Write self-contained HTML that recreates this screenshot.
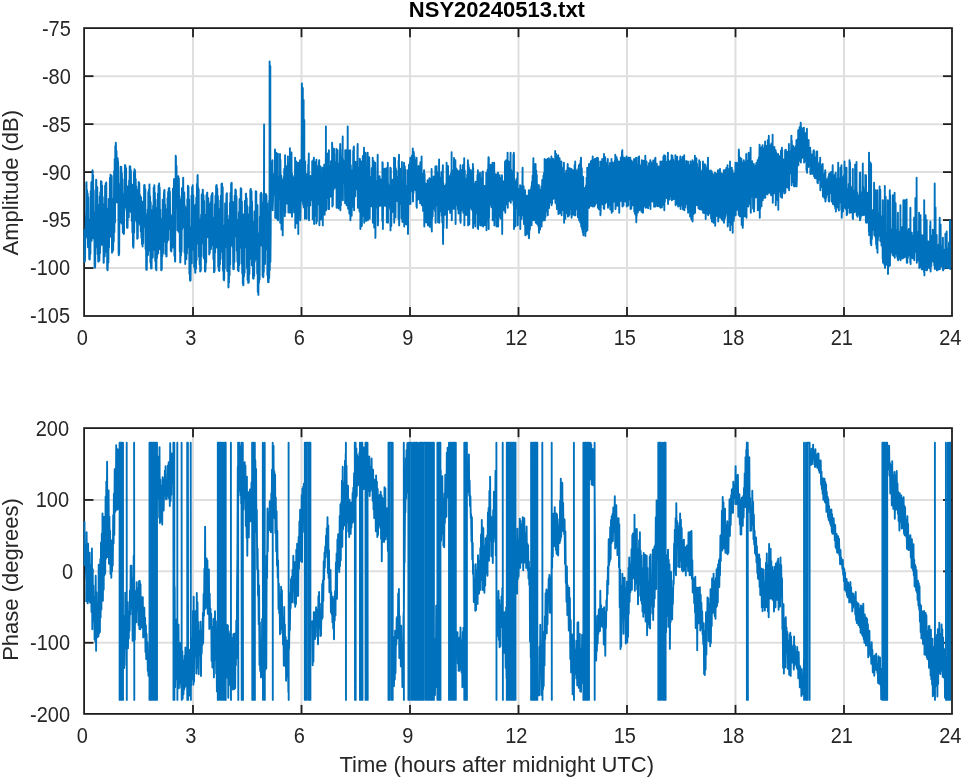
<!DOCTYPE html>
<html lang="en"><head><meta charset="utf-8"><title>NSY20240513.txt</title>
<style>html,body{margin:0;padding:0;background:#fff;overflow:hidden}svg{display:block}text{font-family:"Liberation Sans", sans-serif;fill:#262626}.t{font-size:20px}.l{font-size:22px}.h{font-size:22px;font-weight:bold;fill:#000}.d{fill:none;stroke:#0072bd;stroke-width:1.9;stroke-linejoin:round;stroke-linecap:round}</style></head><body>
<svg width="964" height="778" viewBox="0 0 964 778">
<rect width="964" height="778" fill="#fff"/>
<clipPath id="cp"><rect x="83" y="0" width="867.9" height="778"/></clipPath>
<line x1="193.00" y1="28.2" x2="193.00" y2="316.0" stroke="#dfdfdf" stroke-width="2"/>
<line x1="301.50" y1="28.2" x2="301.50" y2="316.0" stroke="#dfdfdf" stroke-width="2"/>
<line x1="410.00" y1="28.2" x2="410.00" y2="316.0" stroke="#dfdfdf" stroke-width="2"/>
<line x1="518.50" y1="28.2" x2="518.50" y2="316.0" stroke="#dfdfdf" stroke-width="2"/>
<line x1="627.00" y1="28.2" x2="627.00" y2="316.0" stroke="#dfdfdf" stroke-width="2"/>
<line x1="735.50" y1="28.2" x2="735.50" y2="316.0" stroke="#dfdfdf" stroke-width="2"/>
<line x1="844.00" y1="28.2" x2="844.00" y2="316.0" stroke="#dfdfdf" stroke-width="2"/>
<line x1="84.5" y1="76.17" x2="952.0" y2="76.17" stroke="#dfdfdf" stroke-width="2"/>
<line x1="84.5" y1="124.13" x2="952.0" y2="124.13" stroke="#dfdfdf" stroke-width="2"/>
<line x1="84.5" y1="172.10" x2="952.0" y2="172.10" stroke="#dfdfdf" stroke-width="2"/>
<line x1="84.5" y1="220.07" x2="952.0" y2="220.07" stroke="#dfdfdf" stroke-width="2"/>
<line x1="84.5" y1="268.03" x2="952.0" y2="268.03" stroke="#dfdfdf" stroke-width="2"/>
<line x1="193.00" y1="316.0" x2="193.00" y2="307.0" stroke="#1e1e1e" stroke-width="1.8"/>
<line x1="193.00" y1="28.2" x2="193.00" y2="37.2" stroke="#1e1e1e" stroke-width="1.8"/>
<line x1="301.50" y1="316.0" x2="301.50" y2="307.0" stroke="#1e1e1e" stroke-width="1.8"/>
<line x1="301.50" y1="28.2" x2="301.50" y2="37.2" stroke="#1e1e1e" stroke-width="1.8"/>
<line x1="410.00" y1="316.0" x2="410.00" y2="307.0" stroke="#1e1e1e" stroke-width="1.8"/>
<line x1="410.00" y1="28.2" x2="410.00" y2="37.2" stroke="#1e1e1e" stroke-width="1.8"/>
<line x1="518.50" y1="316.0" x2="518.50" y2="307.0" stroke="#1e1e1e" stroke-width="1.8"/>
<line x1="518.50" y1="28.2" x2="518.50" y2="37.2" stroke="#1e1e1e" stroke-width="1.8"/>
<line x1="627.00" y1="316.0" x2="627.00" y2="307.0" stroke="#1e1e1e" stroke-width="1.8"/>
<line x1="627.00" y1="28.2" x2="627.00" y2="37.2" stroke="#1e1e1e" stroke-width="1.8"/>
<line x1="735.50" y1="316.0" x2="735.50" y2="307.0" stroke="#1e1e1e" stroke-width="1.8"/>
<line x1="735.50" y1="28.2" x2="735.50" y2="37.2" stroke="#1e1e1e" stroke-width="1.8"/>
<line x1="844.00" y1="316.0" x2="844.00" y2="307.0" stroke="#1e1e1e" stroke-width="1.8"/>
<line x1="844.00" y1="28.2" x2="844.00" y2="37.2" stroke="#1e1e1e" stroke-width="1.8"/>
<line x1="84.5" y1="76.17" x2="93.5" y2="76.17" stroke="#1e1e1e" stroke-width="1.8"/>
<line x1="952.0" y1="76.17" x2="943.0" y2="76.17" stroke="#1e1e1e" stroke-width="1.8"/>
<line x1="84.5" y1="124.13" x2="93.5" y2="124.13" stroke="#1e1e1e" stroke-width="1.8"/>
<line x1="952.0" y1="124.13" x2="943.0" y2="124.13" stroke="#1e1e1e" stroke-width="1.8"/>
<line x1="84.5" y1="172.10" x2="93.5" y2="172.10" stroke="#1e1e1e" stroke-width="1.8"/>
<line x1="952.0" y1="172.10" x2="943.0" y2="172.10" stroke="#1e1e1e" stroke-width="1.8"/>
<line x1="84.5" y1="220.07" x2="93.5" y2="220.07" stroke="#1e1e1e" stroke-width="1.8"/>
<line x1="952.0" y1="220.07" x2="943.0" y2="220.07" stroke="#1e1e1e" stroke-width="1.8"/>
<line x1="84.5" y1="268.03" x2="93.5" y2="268.03" stroke="#1e1e1e" stroke-width="1.8"/>
<line x1="952.0" y1="268.03" x2="943.0" y2="268.03" stroke="#1e1e1e" stroke-width="1.8"/>
<rect x="84.10" y="28.10" width="867.90" height="287.90" fill="none" stroke="#1e1e1e" stroke-width="1.8"/>
<text transform="translate(82.30,344.9) scale(1,1.06)" text-anchor="middle" class="t">0</text>
<text transform="translate(190.80,344.9) scale(1,1.06)" text-anchor="middle" class="t">3</text>
<text transform="translate(299.30,344.9) scale(1,1.06)" text-anchor="middle" class="t">6</text>
<text transform="translate(407.80,344.9) scale(1,1.06)" text-anchor="middle" class="t">9</text>
<text transform="translate(516.30,344.9) scale(1,1.06)" text-anchor="middle" class="t">12</text>
<text transform="translate(624.80,344.9) scale(1,1.06)" text-anchor="middle" class="t">15</text>
<text transform="translate(733.30,344.9) scale(1,1.06)" text-anchor="middle" class="t">18</text>
<text transform="translate(841.80,344.9) scale(1,1.06)" text-anchor="middle" class="t">21</text>
<text transform="translate(950.30,344.9) scale(1,1.06)" text-anchor="middle" class="t">24</text>
<text transform="translate(70.8,35.60) scale(1,1.06)" text-anchor="end" class="t">-75</text>
<text transform="translate(70.8,83.57) scale(1,1.06)" text-anchor="end" class="t">-80</text>
<text transform="translate(70.8,131.53) scale(1,1.06)" text-anchor="end" class="t">-85</text>
<text transform="translate(70.8,179.50) scale(1,1.06)" text-anchor="end" class="t">-90</text>
<text transform="translate(70.8,227.47) scale(1,1.06)" text-anchor="end" class="t">-95</text>
<text transform="translate(70.1,275.43) scale(1,1.06)" text-anchor="end" class="t">-100</text>
<text transform="translate(70.1,323.40) scale(1,1.06)" text-anchor="end" class="t">-105</text>
<polyline class="d" clip-path="url(#cp)" points="84.5,230.0 84.6,262.0 85.0,260.3 85.3,240.0 86.2,210.4 86.3,182.6 86.5,182.2 86.8,236.2 87.1,190.2 87.4,237.8 87.7,193.4 88.0,247.2 88.3,197.2 88.6,244.6 88.9,225.9 89.2,259.1 89.5,222.0 89.5,259.0 89.8,259.5 90.1,224.3 90.4,254.0 90.7,191.1 91.0,234.5 91.3,182.3 91.6,240.9 91.9,185.1 92.2,203.0 92.5,170.2 92.5,170.1 92.8,238.2 93.1,174.9 93.4,227.8 93.7,190.3 94.0,237.5 94.3,214.6 94.6,267.1 94.9,221.5 95.0,267.8 95.2,265.1 95.5,212.3 95.8,234.7 96.1,179.7 96.3,180.1 96.4,215.8 96.7,191.5 97.0,247.5 97.3,187.3 97.6,254.0 97.9,213.4 98.2,261.5 98.5,205.2 98.8,261.6 98.8,261.6 99.1,222.0 99.4,260.3 99.7,196.4 100.0,253.2 100.3,192.3 100.6,245.5 100.9,181.3 101.2,215.1 101.3,181.4 101.5,181.5 101.8,243.3 102.1,185.5 102.4,244.8 102.7,197.0 103.0,243.3 103.3,221.9 103.6,262.8 103.8,262.8 103.9,225.0 104.2,255.1 104.5,203.9 104.8,256.2 105.1,185.6 105.4,229.2 105.7,183.4 105.8,183.4 106.0,230.0 106.3,182.5 106.6,252.0 106.9,209.7 107.2,269.6 107.5,243.0 107.6,270.3 107.8,263.5 108.1,208.4 108.4,262.6 108.7,198.9 109.0,247.6 109.3,200.1 109.6,237.2 109.9,177.9 110.2,232.1 110.5,174.7 110.6,174.6 110.8,232.8 111.1,182.7 111.4,236.7 111.7,176.0 112.0,252.8 112.3,204.6 112.6,251.5 112.6,251.6 112.9,199.1 113.2,250.0 113.5,203.8 113.8,241.5 114.1,171.3 114.4,232.3 114.7,159.0 115.0,222.4 115.3,146.1 115.6,202.3 115.8,142.6 115.9,143.2 116.2,177.3 116.5,151.0 116.8,202.2 117.1,160.4 117.4,202.3 117.7,158.2 118.0,199.5 118.1,161.4 118.3,171.0 118.6,252.5 118.8,255.3 118.9,205.2 119.2,253.7 119.5,193.8 119.8,222.5 120.1,184.0 120.4,208.2 120.7,166.8 120.8,167.1 121.0,218.3 121.3,166.9 121.6,223.5 121.9,173.1 122.2,215.9 122.5,179.2 122.8,232.6 123.1,201.9 123.4,226.1 123.7,213.1 123.8,234.0 124.0,233.7 124.3,193.9 124.6,210.1 124.9,165.3 125.2,196.8 125.3,165.1 125.5,168.4 125.8,195.9 126.1,168.2 126.4,207.5 126.7,186.6 127.0,227.8 127.3,193.9 127.6,227.7 127.6,227.8 127.9,193.9 128.2,216.7 128.5,185.6 128.8,217.4 129.1,180.4 129.4,199.6 129.7,166.3 130.0,201.1 130.1,166.4 130.3,166.5 130.6,211.8 130.9,170.1 131.2,206.2 131.5,192.8 131.8,221.0 132.1,184.7 132.4,232.6 132.7,192.9 133.0,246.5 133.3,208.1 133.4,247.8 133.6,241.5 133.9,172.3 134.2,232.4 134.5,169.3 134.6,169.4 134.8,199.3 135.1,170.9 135.4,213.2 135.7,178.9 136.0,219.9 136.3,186.4 136.6,221.9 136.9,202.3 137.2,238.7 137.5,198.9 137.6,237.8 137.8,238.1 138.1,189.8 138.4,223.7 138.7,181.9 139.0,218.6 139.1,183.1 139.3,183.2 139.6,210.8 139.9,194.7 140.2,225.3 140.5,201.7 140.8,231.5 141.1,197.2 141.4,237.8 141.7,213.7 142.0,244.3 142.3,201.6 142.6,246.5 142.6,246.5 142.9,211.0 143.2,243.2 143.5,201.9 143.8,227.1 144.1,185.3 144.4,222.2 144.6,185.2 144.7,185.1 145.0,221.4 145.3,189.3 145.6,249.0 145.9,214.1 146.2,268.7 146.4,269.8 146.5,214.9 146.8,269.7 147.1,232.0 147.4,253.8 147.7,209.5 148.0,255.1 148.3,192.0 148.6,234.5 148.9,189.5 149.2,233.8 149.4,184.4 149.5,184.4 149.8,250.7 150.1,196.2 150.4,262.4 150.7,202.3 151.0,268.4 151.3,210.0 151.4,268.3 151.6,268.4 151.9,211.6 152.2,253.1 152.5,218.7 152.8,257.5 153.1,205.6 153.4,250.1 153.7,187.6 154.0,244.0 154.3,185.1 154.4,185.2 154.6,225.4 154.9,192.7 155.2,260.9 155.5,199.8 155.8,268.8 156.1,207.7 156.4,270.3 156.4,270.3 156.7,221.6 157.0,258.1 157.3,225.9 157.6,243.8 157.9,193.7 158.2,253.5 158.5,185.7 158.8,226.6 159.1,183.4 159.2,183.4 159.4,240.5 159.7,187.8 160.0,249.2 160.3,209.6 160.6,248.6 160.9,224.6 161.2,270.3 161.4,270.3 161.5,227.1 161.8,269.3 162.1,219.0 162.4,255.9 162.7,199.6 163.0,253.3 163.3,209.4 163.6,241.8 163.9,195.0 164.2,190.2 164.2,213.7 164.5,190.0 164.8,223.4 165.1,204.6 165.4,253.9 165.7,212.0 166.0,249.3 166.3,231.4 166.4,256.5 166.6,256.4 166.9,209.3 167.2,242.3 167.5,198.2 167.8,238.0 168.1,192.0 168.4,239.9 168.7,188.5 168.9,188.4 169.0,214.0 169.3,187.9 169.6,220.4 169.9,191.7 170.2,229.2 170.5,217.2 170.8,250.8 171.1,219.9 171.4,251.6 171.4,251.5 171.7,216.0 172.0,247.4 172.3,214.5 172.6,247.5 172.9,188.7 173.2,242.2 173.5,189.1 173.8,211.3 173.9,181.4 174.1,179.0 174.4,255.7 174.7,195.3 175.0,261.0 175.2,261.6 175.3,191.7 175.6,208.6 175.7,155.6 175.9,157.1 176.2,199.5 176.5,166.0 176.8,193.3 177.1,178.8 177.4,230.2 177.7,180.3 178.0,219.8 178.3,176.2 178.6,231.8 178.9,178.5 178.9,178.9 179.2,223.3 179.5,196.2 179.8,251.7 180.1,206.6 180.2,262.3 180.4,262.4 180.7,219.6 181.0,255.4 181.3,199.5 181.6,251.4 181.9,188.3 182.2,228.9 182.5,193.5 182.8,217.1 183.1,179.8 183.2,177.6 183.4,225.5 183.7,192.9 184.0,227.4 184.3,192.4 184.6,252.8 184.9,205.7 185.2,264.1 185.2,264.1 185.5,207.8 185.8,256.6 186.1,209.2 186.4,259.3 186.7,213.0 187.0,253.5 187.3,199.1 187.6,247.5 187.9,185.8 188.2,239.2 188.2,186.4 188.5,187.0 188.8,233.7 189.1,199.5 189.4,273.7 189.7,227.1 190.0,280.1 190.2,280.8 190.3,247.7 190.6,280.2 190.9,235.7 191.2,263.2 191.5,195.6 191.8,263.3 192.1,187.1 192.4,249.7 192.7,185.2 192.7,185.2 193.0,241.8 193.3,195.1 193.6,246.8 193.9,210.2 194.2,267.1 194.5,205.7 194.8,269.1 195.1,242.3 195.2,272.8 195.4,272.8 195.7,204.5 196.0,268.8 196.3,197.5 196.6,260.1 196.9,184.0 197.2,231.2 197.5,175.6 197.7,175.1 197.8,213.1 198.1,187.2 198.4,243.8 198.7,189.1 199.0,256.7 199.3,219.1 199.6,264.6 199.9,233.1 200.2,271.6 200.2,271.6 200.5,232.6 200.8,270.8 201.1,214.7 201.4,256.2 201.7,194.4 202.0,236.6 202.3,201.7 202.6,232.5 202.7,189.7 202.9,189.8 203.2,243.4 203.5,195.2 203.8,258.2 204.1,200.9 204.4,257.4 204.7,221.2 205.0,271.6 205.3,271.6 205.3,241.3 205.6,270.1 205.9,214.8 206.2,262.5 206.5,195.0 206.8,232.8 207.1,192.6 207.3,192.7 207.4,215.3 207.7,200.3 208.0,237.2 208.3,198.3 208.6,236.9 208.9,204.0 209.2,254.6 209.5,224.8 209.8,252.8 209.8,253.0 210.1,209.9 210.4,249.3 210.7,201.9 211.0,249.0 211.3,195.9 211.6,242.7 211.9,193.9 212.0,193.9 212.2,245.0 212.5,193.0 212.8,240.3 213.1,217.7 213.4,259.0 213.7,223.2 214.0,272.2 214.0,272.3 214.3,241.4 214.6,271.1 214.9,204.1 215.2,252.6 215.5,195.8 215.8,231.8 216.1,186.0 216.4,212.8 216.5,185.2 216.7,185.1 217.0,247.5 217.3,188.5 217.6,243.1 217.9,196.0 218.2,266.4 218.5,229.8 218.8,270.4 219.0,270.3 219.1,216.6 219.4,271.1 219.7,209.0 220.0,264.3 220.3,200.4 220.6,259.1 220.9,195.4 221.2,251.8 221.5,184.0 221.8,219.2 222.0,183.4 222.1,183.6 222.4,225.8 222.7,187.3 223.0,270.8 223.3,225.5 223.6,279.5 223.9,235.6 224.0,280.3 224.2,278.1 224.5,233.7 224.8,268.6 225.1,203.5 225.4,245.5 225.7,209.5 226.0,247.1 226.3,201.6 226.5,193.9 226.6,242.9 226.9,193.1 227.2,271.0 227.5,219.6 227.8,270.6 228.1,225.7 228.4,287.1 228.5,287.4 228.7,234.2 229.0,282.6 229.3,215.6 229.6,275.3 229.9,202.9 230.2,264.5 230.5,192.9 230.8,245.5 231.1,183.7 231.4,240.4 231.6,182.6 231.7,182.9 232.0,236.7 232.3,201.4 232.6,246.7 232.9,204.7 233.2,267.0 233.3,269.1 233.5,217.6 233.8,269.2 234.1,202.1 234.4,262.1 234.7,195.6 235.0,233.8 235.3,189.4 235.6,234.6 235.8,190.2 235.9,190.1 236.2,236.4 236.5,196.5 236.8,250.8 237.1,221.2 237.4,261.6 237.7,220.1 238.0,270.2 238.3,235.1 238.3,270.3 238.6,271.2 238.9,212.3 239.2,264.9 239.5,199.2 239.8,248.0 240.1,200.3 240.4,221.9 240.7,188.2 240.8,188.2 241.0,238.9 241.3,188.7 241.6,263.4 241.9,201.8 242.2,273.3 242.5,220.0 242.8,283.4 243.1,238.3 243.3,285.4 243.4,285.3 243.7,214.4 244.0,276.6 244.3,229.0 244.6,272.7 244.9,200.7 245.2,247.6 245.5,204.9 245.8,233.1 245.8,193.9 246.1,193.6 246.4,247.0 246.7,198.1 247.0,268.3 247.3,206.0 247.6,280.0 247.9,220.1 248.2,282.9 248.3,282.8 248.5,226.5 248.8,282.4 249.1,214.2 249.4,274.1 249.7,207.1 250.0,259.0 250.3,190.0 250.6,254.3 250.8,188.9 250.9,188.9 251.2,253.2 251.5,191.4 251.8,265.2 252.1,201.4 252.4,264.4 252.7,228.6 253.0,278.2 253.3,222.3 253.3,277.8 253.6,278.7 253.9,236.7 254.2,276.0 254.5,211.4 254.8,261.8 255.1,214.4 255.4,251.2 255.7,191.2 256.0,235.6 256.1,191.4 256.3,191.5 256.6,259.3 256.9,219.3 257.2,273.7 257.5,205.3 257.8,292.1 258.1,242.4 258.4,294.9 258.4,294.7 258.7,233.6 259.0,282.8 259.3,234.3 259.6,279.4 259.9,216.5 260.2,245.0 260.5,194.1 260.8,245.5 261.1,192.7 261.1,192.7 261.4,243.4 261.7,194.0 262.0,245.8 262.3,203.5 262.6,275.9 262.9,214.2 263.2,277.2 263.4,276.6 263.5,230.7 263.8,200.9 263.8,272.0 264.1,124.4 264.1,218.4 264.4,200.9 264.4,256.4 264.7,202.1 265.0,264.1 265.3,198.4 265.6,230.8 265.9,193.9 265.9,193.9 266.2,249.5 266.5,195.6 266.8,241.3 267.1,203.4 267.4,275.0 267.7,230.6 268.0,281.9 268.3,229.7 268.4,282.3 268.6,282.3 268.9,251.8 269.1,200.9 269.2,278.1 269.5,252.6 269.6,61.5 269.8,200.9 269.8,270.1 270.1,200.9 270.1,242.8 270.3,66.0 270.4,262.1 270.7,232.7 270.8,200.9 271.0,176.4 271.3,193.3 271.6,176.9 271.9,193.3 272.2,174.2 272.3,160.9 272.5,193.3 272.5,160.2 272.7,210.3 272.8,174.3 272.8,206.7 273.1,196.1 273.4,175.6 273.7,193.9 274.0,174.5 274.3,194.5 274.6,173.5 274.9,194.5 275.0,149.4 275.2,172.9 275.2,217.8 275.5,196.1 275.8,162.3 276.1,202.5 276.2,152.6 276.4,156.1 276.7,197.6 276.7,218.5 277.0,175.2 277.3,204.9 277.6,176.0 277.9,153.8 277.9,200.1 278.1,220.2 278.2,176.5 278.5,198.2 278.8,176.5 279.1,198.7 279.4,177.1 279.7,199.1 280.0,170.2 280.0,154.0 280.2,222.8 280.3,204.3 280.4,159.8 280.6,182.2 280.9,206.3 280.9,220.2 281.2,175.4 281.5,229.5 281.8,192.6 282.1,218.6 282.4,190.2 282.5,180.3 282.7,215.2 282.7,235.4 283.0,194.5 283.3,210.3 283.6,177.3 283.9,204.1 284.2,171.8 284.3,168.7 284.5,198.4 284.8,177.2 284.8,216.2 285.1,155.2 285.1,194.9 285.3,212.8 285.4,174.5 285.7,193.0 286.0,173.9 286.3,192.8 286.6,166.1 286.9,203.6 287.2,172.7 287.5,192.0 287.8,172.1 287.9,156.4 288.1,191.7 288.4,171.5 288.4,212.5 288.7,192.8 289.0,167.3 289.3,193.3 289.6,162.4 289.9,192.6 289.9,148.1 290.1,212.7 290.2,170.6 290.5,193.6 290.8,153.5 291.1,195.3 291.4,172.4 291.5,152.5 291.7,195.4 292.0,173.6 292.0,216.7 292.3,197.6 292.6,175.6 292.9,198.4 293.2,177.3 293.5,200.1 293.8,178.7 294.1,212.4 294.4,179.9 294.7,205.1 295.0,178.3 295.1,157.7 295.3,227.9 295.3,208.5 295.6,179.2 295.9,210.0 296.2,169.2 296.3,161.4 296.5,216.2 296.8,175.5 296.8,223.3 297.1,207.9 297.4,185.8 297.7,216.1 298.0,186.6 298.1,162.7 298.3,234.1 298.3,208.8 298.6,164.1 298.9,205.8 299.2,182.9 299.5,202.9 299.8,171.7 299.9,161.4 300.1,160.2 300.1,199.9 300.3,220.3 300.4,180.1 300.4,219.8 300.7,199.7 301.0,174.8 301.3,199.6 301.4,200.9 301.6,179.9 301.9,83.5 301.9,199.5 302.2,200.9 302.2,176.3 302.4,200.9 302.5,199.3 302.8,88.0 302.8,179.3 303.0,200.9 303.1,204.5 303.4,200.9 303.4,173.1 303.6,100.0 303.7,207.4 303.8,200.9 304.0,178.6 304.2,200.9 304.3,120.0 304.3,198.8 304.4,159.7 304.6,178.3 304.8,200.9 304.9,203.7 304.9,218.8 305.2,161.4 305.5,199.3 305.8,177.7 306.1,200.0 306.4,177.3 306.7,218.8 307.0,174.1 307.3,205.6 307.6,174.2 307.9,198.4 308.2,164.8 308.5,197.7 308.6,159.3 308.8,175.8 308.8,153.5 309.0,220.3 309.1,197.8 309.1,218.4 309.4,176.6 309.7,199.1 310.0,177.1 310.3,205.4 310.6,175.9 310.9,199.2 311.2,178.1 311.5,199.7 311.8,178.6 312.1,200.2 312.2,161.2 312.4,165.9 312.7,200.6 312.7,219.4 313.0,179.6 313.3,201.1 313.6,160.1 313.9,157.7 313.9,201.8 314.1,224.1 314.2,167.4 314.5,216.1 314.8,161.9 315.1,208.5 315.4,166.7 315.7,215.9 316.0,175.1 316.3,223.6 316.4,159.7 316.6,176.1 316.9,205.1 316.9,221.2 317.2,177.6 317.5,202.6 317.8,166.1 318.1,204.3 318.4,181.8 318.7,203.2 319.0,162.6 319.2,160.1 319.3,203.6 319.4,225.2 319.6,182.8 319.9,203.6 320.2,181.4 320.5,204.2 320.6,166.5 320.8,181.5 321.1,204.6 321.1,219.6 321.4,185.5 321.7,205.6 322.0,186.4 322.3,205.5 322.6,187.3 322.6,167.7 322.8,225.4 322.9,205.7 323.2,184.0 323.5,201.5 323.8,181.3 324.1,206.8 324.2,164.8 324.4,178.2 324.7,195.7 324.7,214.8 325.0,167.7 325.3,195.3 325.6,200.9 325.6,172.1 325.9,150.2 325.9,126.5 325.9,200.1 326.1,210.3 326.2,200.9 326.2,169.7 326.5,198.3 326.8,160.2 327.1,189.7 327.4,168.5 327.7,192.3 327.8,153.4 328.0,164.5 328.3,204.0 328.3,209.1 328.6,170.3 328.9,150.2 328.9,189.0 329.1,209.1 329.2,166.2 329.5,192.5 329.8,168.2 330.1,187.8 330.4,167.4 330.7,196.6 331.0,161.1 331.3,186.8 331.6,165.4 331.9,193.4 332.1,142.7 332.2,162.1 332.3,145.7 332.3,206.6 332.5,185.1 332.8,165.1 332.8,205.4 333.1,185.5 333.4,155.4 333.7,189.6 334.0,148.8 334.3,186.9 334.6,166.3 334.9,187.3 335.2,167.2 335.5,187.7 335.8,162.2 336.1,187.6 336.2,154.1 336.4,168.9 336.4,148.9 336.6,207.8 336.7,188.1 336.7,205.3 337.0,167.7 337.3,188.4 337.6,150.1 337.9,187.8 338.2,166.4 338.5,208.5 338.8,164.0 339.1,188.5 339.4,166.9 339.7,187.9 340.0,151.5 340.2,143.9 340.3,201.4 340.4,149.4 340.4,210.3 340.6,156.8 340.9,185.1 340.9,205.3 341.2,162.8 341.5,188.5 341.8,161.0 342.1,184.5 342.4,158.8 342.7,136.4 342.7,178.7 342.9,200.3 343.0,158.9 343.3,179.9 343.6,160.8 343.9,181.3 344.2,162.6 344.5,182.5 344.8,164.3 345.1,203.3 345.2,150.3 345.4,166.0 345.7,185.4 345.7,200.1 346.0,164.6 346.3,188.4 346.4,150.2 346.6,169.1 346.6,205.3 346.9,192.1 347.2,169.7 347.4,200.9 347.5,192.1 347.7,126.5 347.8,170.5 348.0,200.9 348.1,208.7 348.4,168.7 348.7,192.6 348.8,150.8 349.0,172.4 349.3,194.2 349.3,213.6 349.6,173.0 349.9,213.2 350.2,150.2 350.2,173.9 350.4,220.3 350.5,199.2 350.8,165.1 351.1,194.6 351.4,170.9 351.7,215.7 352.0,170.6 352.3,192.6 352.6,170.2 352.9,206.8 353.2,150.9 353.5,191.5 353.6,147.5 353.8,168.4 353.9,146.4 354.1,188.5 354.1,207.9 354.1,210.3 354.4,167.8 354.7,188.4 355.0,162.0 355.3,196.3 355.6,161.9 355.9,189.4 356.2,166.7 356.5,187.0 356.8,164.3 357.1,186.5 357.4,157.4 357.5,147.4 357.7,143.9 357.7,186.1 357.9,207.8 358.0,167.8 358.0,202.2 358.3,203.0 358.6,172.1 358.9,196.0 359.2,176.3 359.5,211.5 359.8,158.7 360.1,204.9 360.2,160.2 360.4,182.8 360.4,229.1 360.7,216.8 361.0,181.4 361.1,161.4 361.3,203.5 361.6,179.8 361.6,226.3 361.9,224.7 362.2,176.1 362.5,216.1 362.8,155.9 363.1,199.2 363.4,174.2 363.7,198.1 364.0,147.7 364.0,168.4 364.2,222.8 364.3,206.3 364.6,173.7 364.9,197.3 365.2,171.0 365.5,198.1 365.6,152.7 365.8,173.3 366.1,216.2 366.1,220.9 366.4,174.3 366.7,198.5 367.0,175.2 367.3,197.5 367.6,175.6 367.7,152.7 367.9,200.1 367.9,220.3 368.2,176.1 368.5,197.9 368.8,176.5 369.1,198.3 369.2,157.2 369.4,166.6 369.7,201.2 369.7,218.8 370.0,177.1 370.3,199.1 370.6,178.1 370.9,201.9 371.2,177.0 371.5,206.3 371.8,167.9 372.1,200.3 372.4,179.3 372.7,200.7 372.7,157.7 372.9,222.8 373.0,180.8 373.3,203.4 373.6,180.0 373.7,161.2 373.9,206.9 374.2,182.3 374.2,227.5 374.5,208.9 374.8,186.8 375.1,212.6 375.2,162.7 375.4,175.5 375.4,237.9 375.7,210.4 376.0,185.3 376.3,207.6 376.6,183.0 376.9,206.3 377.2,180.8 377.5,202.4 377.6,157.1 377.7,154.7 377.8,177.7 377.9,225.4 378.1,202.2 378.1,221.7 378.4,179.6 378.7,202.4 379.0,180.4 379.3,203.0 379.6,176.3 379.9,205.9 380.2,182.0 380.5,204.2 380.8,179.4 381.1,204.8 381.4,183.5 381.7,205.5 382.0,184.3 382.3,221.1 382.4,162.2 382.6,183.6 382.7,162.7 382.9,206.4 382.9,227.8 382.9,229.1 383.2,182.9 383.5,205.9 383.8,184.4 384.1,205.4 384.4,168.7 384.7,205.0 385.0,178.5 385.3,205.9 385.6,176.4 385.9,205.0 386.2,182.6 386.3,168.1 386.5,203.9 386.8,182.9 386.8,222.3 387.1,203.4 387.4,183.2 387.7,213.2 387.8,162.7 388.0,222.8 388.0,182.4 388.3,204.4 388.6,185.1 388.9,205.8 389.2,186.5 389.5,207.0 389.8,187.8 390.1,209.2 390.3,167.7 390.4,188.7 390.5,230.4 390.7,208.2 390.8,168.3 391.0,187.2 391.3,206.8 391.3,226.1 391.6,184.1 391.9,206.0 392.2,183.7 392.5,212.0 392.8,179.7 393.1,205.0 393.4,181.4 393.7,201.4 394.0,177.7 394.0,157.7 394.2,222.8 394.3,200.7 394.6,166.7 394.9,208.8 395.0,158.1 395.2,171.2 395.5,200.9 395.5,217.5 395.8,168.2 396.1,201.0 396.4,170.7 396.7,201.1 397.0,179.0 397.3,201.1 397.6,177.9 397.9,201.2 398.2,176.8 398.5,219.0 398.6,160.6 398.8,164.3 399.0,154.7 399.1,203.1 399.1,220.9 399.2,225.4 399.4,179.1 399.7,202.6 400.0,168.7 400.3,202.5 400.6,175.3 400.9,203.7 401.2,181.1 401.5,218.2 401.8,181.6 401.9,161.9 402.1,203.5 402.4,179.8 402.4,222.0 402.7,203.9 403.0,183.3 403.3,204.4 403.6,183.9 403.9,205.2 404.0,162.7 404.2,184.7 404.2,226.6 404.5,205.8 404.8,166.3 405.1,219.3 405.4,187.2 405.5,169.6 405.7,214.3 406.0,188.4 406.0,224.2 406.3,210.1 406.6,189.5 406.9,210.6 407.2,186.0 407.5,224.7 407.8,170.2 407.8,191.9 408.0,234.1 408.1,218.8 408.4,187.2 408.7,204.3 409.0,164.7 409.3,200.1 409.6,177.7 409.9,194.7 410.0,161.7 410.2,170.3 410.3,157.7 410.5,192.2 410.5,204.0 410.5,200.3 410.8,165.6 411.1,188.9 411.4,168.7 411.7,191.3 412.0,155.4 412.3,185.2 412.6,160.4 412.8,148.4 412.9,187.6 413.0,201.6 413.2,165.2 413.5,193.0 413.8,151.9 414.1,187.0 414.4,156.3 414.7,189.7 415.0,159.9 415.3,189.6 415.6,164.5 415.9,190.6 416.2,171.9 416.5,206.5 416.6,157.7 416.8,207.8 416.8,168.1 417.1,200.3 417.4,171.2 417.7,193.7 418.0,170.6 418.3,199.4 418.6,166.0 418.9,191.1 419.2,170.8 419.5,194.0 419.8,168.8 420.1,203.3 420.4,162.3 420.7,190.2 421.0,170.9 421.3,189.9 421.6,156.5 421.6,172.3 421.8,205.3 421.9,192.2 422.2,175.9 422.5,205.2 422.8,173.9 423.1,210.9 423.4,183.1 423.7,205.9 424.0,171.0 424.1,170.2 424.3,226.6 424.3,219.8 424.6,173.9 424.9,209.1 425.2,188.5 425.5,214.8 425.8,183.6 426.1,222.6 426.4,188.9 426.7,211.7 427.0,193.3 427.3,219.2 427.6,180.3 427.8,180.3 427.9,222.3 428.0,225.4 428.2,188.8 428.5,212.1 428.8,192.8 429.1,219.8 429.4,178.1 429.7,226.8 430.0,191.2 430.3,216.1 430.6,187.0 430.9,213.7 431.2,178.7 431.5,228.4 431.6,169.0 431.8,231.6 431.8,179.9 432.1,218.8 432.4,180.3 432.7,216.3 433.0,183.3 433.3,209.1 433.6,176.4 433.9,207.5 434.2,179.7 434.5,208.1 434.8,180.9 435.1,211.2 435.4,166.5 435.4,181.6 435.6,222.8 435.7,221.9 436.0,183.2 436.3,204.2 436.6,166.2 436.9,204.9 437.2,181.4 437.5,205.7 437.8,176.1 438.1,222.2 438.4,172.3 438.7,204.0 439.0,175.7 439.1,159.5 439.3,206.2 439.3,222.8 439.6,177.4 439.9,208.4 440.2,182.6 440.5,210.8 440.8,182.5 441.1,211.6 441.4,172.2 441.7,215.7 442.0,187.8 442.3,222.4 442.6,173.4 442.9,165.2 442.9,232.3 443.1,244.1 443.2,182.3 443.5,228.1 443.8,187.2 444.1,215.2 444.4,186.9 444.7,214.8 445.0,185.6 445.3,214.5 445.6,185.3 445.9,209.4 446.2,183.7 446.5,207.8 446.6,162.7 446.8,171.2 446.8,227.9 447.1,210.6 447.4,181.7 447.7,207.7 448.0,166.0 448.3,209.5 448.6,174.9 448.9,205.2 449.2,178.3 449.5,208.8 449.8,177.5 450.1,212.9 450.4,176.3 450.7,210.5 451.0,173.3 451.3,207.5 451.6,168.2 451.6,152.2 451.8,220.3 451.9,199.0 452.2,170.4 452.5,199.8 452.8,175.5 453.1,202.5 453.4,176.2 453.7,208.9 454.0,157.9 454.3,203.8 454.6,165.9 454.9,203.5 455.2,171.6 455.4,160.2 455.5,205.1 455.6,224.1 455.8,176.7 456.1,203.8 456.4,168.8 456.7,204.3 457.0,178.7 457.3,204.8 457.6,170.4 457.9,209.3 458.2,176.6 458.5,213.6 458.8,182.1 459.1,204.2 459.4,171.3 459.7,205.4 460.0,172.4 460.3,220.9 460.4,165.2 460.6,177.6 460.6,222.8 460.9,204.4 461.2,170.0 461.5,210.4 461.8,181.6 462.1,204.6 462.4,177.9 462.7,204.2 463.0,164.9 463.3,212.8 463.6,167.5 463.9,205.8 464.2,158.2 464.2,162.1 464.4,225.4 464.5,204.1 464.8,170.7 465.1,204.7 465.4,180.1 465.7,204.2 466.0,180.0 466.3,215.0 466.6,178.7 466.9,207.7 467.2,174.6 467.5,205.2 467.8,174.2 467.9,160.2 468.1,212.3 468.1,225.4 468.4,164.4 468.7,208.7 469.0,167.7 469.3,224.4 469.6,171.5 469.9,208.0 470.2,181.8 470.5,206.1 470.8,170.0 471.1,206.5 471.4,178.6 471.7,209.6 472.0,183.8 472.3,207.5 472.6,171.6 472.9,211.8 472.9,164.0 473.1,227.9 473.2,168.0 473.5,223.7 473.8,185.2 474.1,215.7 474.4,185.8 474.7,210.7 475.0,183.8 475.3,226.4 475.6,181.6 475.9,209.4 476.2,183.9 476.5,213.2 476.8,187.7 477.1,211.3 477.4,174.9 477.7,228.2 477.9,170.2 478.0,179.1 478.1,229.1 478.3,210.0 478.6,175.0 478.9,212.0 479.2,178.1 479.5,209.1 479.8,189.3 480.0,172.7 480.1,221.7 480.2,225.3 480.4,188.7 480.7,208.6 481.0,186.3 481.3,225.5 481.6,178.3 481.9,210.5 482.2,172.1 482.5,218.8 482.8,177.7 482.9,171.5 483.1,215.0 483.1,226.6 483.4,187.7 483.7,223.5 484.0,187.0 484.3,225.3 484.6,186.0 484.9,225.0 485.2,187.6 485.5,213.4 485.8,186.0 486.1,212.7 486.3,172.7 486.4,190.3 486.5,230.3 486.7,215.9 487.0,174.1 487.3,210.0 487.6,169.7 487.9,219.6 488.2,169.6 488.5,157.2 488.5,208.6 488.7,229.1 488.8,157.7 489.1,217.8 489.4,174.9 489.7,204.9 490.0,175.2 490.3,204.2 490.6,164.7 490.9,204.9 491.2,179.2 491.5,207.3 491.8,174.7 492.1,207.2 492.4,178.0 492.5,162.6 492.7,208.1 492.7,220.3 493.0,169.1 493.3,206.0 493.6,178.7 493.9,216.3 494.2,182.7 494.2,162.7 494.4,225.4 494.5,206.2 494.8,184.1 495.1,207.7 495.4,174.2 495.7,208.9 496.0,190.3 496.3,175.2 496.3,211.0 496.5,226.5 496.6,188.2 496.9,220.1 497.2,174.0 497.5,221.0 497.8,185.2 498.0,172.7 498.1,209.6 498.2,226.6 498.4,190.4 498.7,215.9 499.0,180.3 499.3,211.9 499.6,175.1 499.9,216.2 500.2,187.7 500.5,218.5 500.8,192.7 501.1,214.1 501.4,177.6 501.7,215.4 502.0,193.9 502.0,175.2 502.2,234.0 502.3,214.4 502.6,182.8 502.9,210.5 503.2,187.4 503.5,206.8 503.8,181.8 504.1,210.3 504.4,180.5 504.7,210.4 505.0,162.6 505.1,161.4 505.3,212.7 505.3,205.8 505.6,176.1 505.9,195.1 506.2,160.3 506.5,204.4 506.8,172.4 507.1,193.5 507.4,169.3 507.6,152.6 507.7,198.4 507.8,207.7 508.0,170.0 508.3,190.2 508.6,161.4 508.9,201.1 509.2,169.4 509.5,192.3 509.8,163.2 510.1,198.8 510.4,166.8 510.6,152.6 510.7,202.8 510.8,202.7 511.0,169.5 511.3,190.8 511.6,171.2 511.9,199.2 512.2,172.8 512.5,198.1 512.8,174.1 513.1,200.7 513.4,154.8 513.7,205.5 513.8,152.6 514.0,155.7 514.0,229.0 514.3,215.5 514.6,179.1 514.9,224.4 515.2,181.6 515.5,226.4 515.8,183.6 516.1,207.6 516.4,181.3 516.7,207.5 517.0,178.4 517.3,208.2 517.6,172.7 517.6,179.5 517.8,225.3 517.9,209.3 518.2,188.7 518.5,211.2 518.8,193.6 519.1,215.0 519.4,195.3 519.7,215.4 520.0,194.0 520.1,185.2 520.3,229.0 520.3,213.9 520.6,195.6 520.9,215.7 521.2,191.2 521.5,218.9 521.8,186.2 522.1,205.2 522.4,184.1 522.6,167.7 522.7,201.0 522.8,215.3 523.0,186.4 523.3,210.6 523.6,186.3 523.9,224.1 524.2,195.1 524.5,222.1 524.8,201.1 525.1,190.2 525.1,220.9 525.3,235.3 525.4,203.0 525.7,227.2 526.0,196.4 526.3,234.6 526.6,195.7 526.9,225.4 527.2,201.8 527.5,224.8 527.8,202.9 528.1,234.1 528.4,195.1 528.7,236.5 528.8,190.2 529.0,196.2 529.0,238.3 529.3,230.1 529.6,190.9 529.9,229.4 530.2,193.1 530.5,225.3 530.8,189.2 531.1,222.8 531.4,186.4 531.4,192.8 531.6,225.3 531.7,217.3 532.0,181.7 532.3,211.5 532.6,175.8 532.9,219.9 533.2,171.5 533.4,158.1 533.5,212.2 533.6,220.3 533.8,163.7 534.1,220.0 534.4,165.2 534.7,216.3 535.0,171.2 535.3,214.4 535.6,168.9 535.6,163.9 535.8,222.8 535.9,214.7 536.2,170.7 536.5,212.2 536.8,174.9 537.1,224.0 537.4,184.4 537.7,217.0 538.0,187.6 538.3,226.2 538.6,185.9 538.9,185.2 538.9,231.2 539.1,232.8 539.2,194.2 539.5,221.1 539.8,195.1 540.1,229.6 540.4,189.6 540.7,219.4 541.0,189.3 541.3,226.3 541.4,186.4 541.6,226.5 541.6,188.4 541.9,217.5 542.2,179.9 542.5,220.9 542.8,184.1 543.1,220.3 543.4,175.6 543.7,216.4 544.0,172.9 544.3,210.9 544.6,167.6 544.6,158.9 544.8,220.3 544.9,212.9 545.2,166.7 545.5,216.9 545.8,172.1 546.1,206.5 546.4,159.8 546.7,211.4 547.0,164.2 547.3,210.8 547.6,169.1 547.6,158.9 547.8,215.3 547.9,206.4 548.2,169.0 548.5,201.8 548.8,158.2 549.1,208.1 549.4,159.2 549.7,197.2 550.0,161.0 550.3,199.7 550.6,163.0 550.9,202.7 551.2,168.0 551.4,156.4 551.5,197.8 551.6,205.2 551.8,161.1 552.1,203.3 552.4,160.7 552.7,196.2 553.0,158.8 553.3,198.9 553.6,161.7 553.9,198.0 554.2,161.1 554.5,191.0 554.8,159.9 555.1,191.4 555.2,150.9 555.4,202.7 555.4,157.6 555.7,198.4 556.0,153.8 556.3,203.7 556.6,156.2 556.9,209.1 557.2,163.8 557.5,202.9 557.8,165.3 558.1,201.1 558.2,155.1 558.4,214.0 558.4,162.4 558.7,207.4 559.0,168.8 559.3,213.4 559.6,158.2 559.9,202.1 560.2,172.4 560.5,202.5 560.8,163.7 561.1,213.2 561.4,173.4 561.4,161.4 561.6,215.3 561.7,203.1 562.0,167.8 562.3,208.9 562.6,175.4 562.9,206.0 563.2,173.3 563.5,210.2 563.8,172.7 563.9,162.6 564.1,216.0 564.1,222.8 564.4,173.4 564.7,210.7 565.0,174.0 565.3,218.9 565.6,173.6 565.9,213.5 566.2,170.7 566.5,209.6 566.8,171.3 567.1,204.8 567.4,174.2 567.7,163.9 567.7,212.0 567.9,216.5 568.0,167.3 568.3,207.0 568.6,175.3 568.9,215.7 569.2,177.0 569.5,214.6 569.8,168.2 570.1,207.0 570.4,169.5 570.7,207.4 571.0,179.6 571.3,209.3 571.4,168.9 571.6,176.3 571.6,217.8 571.9,212.6 572.2,174.0 572.5,214.6 572.8,170.3 573.1,205.8 573.4,174.8 573.7,213.1 574.0,174.9 574.3,215.2 574.6,165.0 574.9,205.4 575.2,161.4 575.2,170.6 575.4,215.3 575.5,206.0 575.8,169.5 576.1,206.7 576.4,175.2 576.7,207.5 577.0,173.7 577.3,209.6 577.6,171.0 577.9,217.2 578.2,168.9 578.5,214.6 578.8,166.8 578.9,165.2 579.1,212.5 579.1,220.3 579.4,171.5 579.7,211.7 580.0,163.7 580.3,222.6 580.6,160.4 580.9,219.9 581.0,157.6 581.2,226.5 581.2,174.2 581.5,213.9 581.8,168.3 582.1,229.3 582.4,177.4 582.7,232.2 583.0,176.8 583.2,177.7 583.3,232.0 583.4,235.3 583.6,188.1 583.9,228.5 584.2,190.9 584.5,228.3 584.8,192.0 585.1,224.5 585.2,187.7 585.4,196.2 585.4,236.0 585.7,224.3 586.0,185.4 586.3,231.2 586.6,177.8 586.9,218.9 587.2,175.9 587.2,167.7 587.4,230.3 587.5,221.3 587.8,178.1 588.1,207.2 588.4,169.8 588.7,202.6 589.0,163.9 589.0,167.6 589.2,207.7 589.3,198.8 589.6,164.2 589.9,199.9 590.2,167.7 590.5,202.2 590.8,161.5 591.1,206.1 591.4,160.8 591.7,203.2 592.0,168.8 592.3,197.0 592.6,162.2 592.7,156.4 592.9,206.3 592.9,206.5 593.2,159.8 593.5,197.0 593.8,164.4 594.1,206.4 594.4,162.7 594.7,205.4 595.0,158.7 595.3,204.5 595.6,161.6 595.9,203.3 596.2,165.2 596.5,196.9 596.8,158.0 597.1,195.9 597.4,166.3 597.7,203.1 597.7,157.6 597.9,207.7 598.0,158.5 598.3,199.8 598.6,168.2 598.9,209.3 599.2,168.3 599.5,205.5 599.8,168.9 600.1,202.6 600.2,161.4 600.4,161.8 600.4,215.3 600.7,210.6 601.0,172.8 601.3,201.7 601.6,169.9 601.9,204.2 602.2,158.9 602.5,200.2 602.8,166.4 603.1,201.4 603.4,161.5 603.7,208.2 604.0,153.9 604.0,160.0 604.2,209.0 604.3,207.6 604.6,160.6 604.9,201.4 605.2,157.1 605.5,203.2 605.8,162.8 606.1,202.2 606.4,165.0 606.7,201.2 607.0,169.0 607.3,198.4 607.6,161.5 607.8,158.9 607.9,197.7 608.0,207.7 608.2,168.3 608.5,198.7 608.8,166.6 609.1,198.0 609.4,166.7 609.7,205.5 610.0,162.9 610.3,209.5 610.6,170.4 610.9,207.4 611.2,169.2 611.5,204.2 611.5,158.9 611.7,212.7 611.8,164.1 612.1,210.1 612.4,162.1 612.7,211.4 613.0,169.9 613.3,202.1 613.6,163.3 613.9,197.8 614.2,168.2 614.5,201.5 614.8,160.9 615.1,197.9 615.3,154.6 615.4,167.0 615.5,209.0 615.7,200.6 616.0,159.3 616.3,204.5 616.6,157.1 616.9,205.6 617.2,159.5 617.5,205.8 617.8,165.7 618.1,204.5 618.4,171.8 618.7,200.8 619.0,165.6 619.0,161.4 619.2,212.7 619.3,210.5 619.6,171.7 619.9,200.7 620.2,165.9 620.5,201.1 620.8,157.4 621.1,199.0 621.4,162.3 621.7,200.8 622.0,151.8 622.3,150.1 622.3,196.9 622.5,206.5 622.6,155.5 622.9,193.8 623.2,159.0 623.5,205.5 623.8,162.5 624.1,198.2 624.4,157.7 624.7,201.0 625.0,159.4 625.3,201.6 625.6,159.0 625.9,198.2 626.2,163.8 626.5,199.2 626.5,156.4 626.7,206.5 626.8,162.2 627.1,201.6 627.4,158.2 627.7,199.9 628.0,163.6 628.3,205.6 628.6,157.4 628.9,198.8 629.2,160.6 629.5,199.2 629.8,160.6 630.1,197.0 630.3,157.6 630.4,163.7 630.5,209.0 630.7,203.9 631.0,161.6 631.3,208.6 631.6,160.6 631.9,204.6 632.2,164.5 632.5,198.1 632.8,164.1 633.1,205.4 633.4,161.9 633.7,200.7 634.0,164.1 634.1,158.9 634.3,211.5 634.3,200.5 634.6,162.2 634.9,213.5 635.2,166.2 635.5,214.7 635.8,162.9 636.1,157.6 636.1,211.3 636.3,222.3 636.4,171.4 636.7,216.1 637.0,166.7 637.3,205.2 637.6,164.9 637.9,212.6 638.2,157.4 638.5,206.7 638.8,156.9 639.1,156.4 639.1,199.6 639.3,210.2 639.4,163.4 639.7,197.9 640.0,167.4 640.3,209.5 640.6,170.4 640.9,207.1 641.2,165.4 641.5,211.7 641.8,160.1 642.1,201.4 642.4,170.0 642.7,212.6 642.8,161.4 643.0,169.3 643.0,212.7 643.3,201.7 643.6,160.7 643.9,205.8 644.2,166.8 644.5,203.9 644.8,164.0 645.1,201.4 645.3,155.6 645.4,161.3 645.5,207.7 645.7,197.5 646.0,161.0 646.3,207.4 646.6,161.8 646.9,205.5 647.2,166.1 647.5,198.0 647.8,169.9 648.1,208.2 648.4,169.0 648.7,201.2 649.0,163.1 649.3,205.6 649.6,164.0 649.9,202.3 650.2,162.2 650.3,160.1 650.5,202.4 650.5,209.0 650.8,161.8 651.1,197.5 651.4,162.9 651.7,197.7 652.0,166.5 652.3,201.5 652.6,168.6 652.9,201.2 653.2,160.4 653.5,196.1 653.8,167.9 654.1,206.8 654.4,164.6 654.7,199.7 655.0,158.8 655.3,203.9 655.4,157.6 655.6,206.5 655.6,167.5 655.9,201.9 656.2,167.8 656.5,204.2 656.8,163.8 657.1,204.6 657.4,169.9 657.7,206.2 658.0,168.4 658.3,205.5 658.6,166.4 658.9,206.1 659.2,170.6 659.5,196.9 659.8,166.9 660.1,206.9 660.4,161.4 660.4,167.3 660.6,207.7 660.7,202.4 661.0,169.9 661.3,203.0 661.6,166.1 661.9,207.4 662.2,161.5 662.5,202.7 662.8,168.0 663.1,198.8 663.4,156.7 663.7,204.9 664.0,165.5 664.1,155.1 664.3,207.4 664.3,210.2 664.6,165.1 664.9,201.8 665.2,156.0 665.5,196.4 665.8,165.5 666.1,194.9 666.4,164.4 666.7,198.1 667.0,161.7 667.3,196.0 667.6,165.0 667.9,152.6 667.9,197.6 668.1,204.0 668.2,159.6 668.5,200.2 668.8,161.6 669.1,197.8 669.4,161.7 669.7,199.3 670.0,163.5 670.3,195.8 670.6,160.7 670.9,194.9 671.2,159.9 671.5,195.3 671.6,155.1 671.8,162.6 671.8,200.2 672.1,198.9 672.4,155.7 672.7,196.7 673.0,159.2 673.3,199.3 673.6,162.9 673.9,198.5 674.2,161.4 674.5,198.0 674.8,162.3 675.1,199.3 675.4,155.1 675.4,164.5 675.6,205.2 675.7,196.3 676.0,165.0 676.3,201.0 676.6,164.6 676.9,203.7 677.2,156.7 677.5,203.9 677.8,164.0 678.1,206.6 678.4,164.0 678.7,199.8 679.0,161.1 679.3,203.9 679.6,163.6 679.9,205.9 680.2,158.2 680.4,156.4 680.5,200.0 680.6,209.0 680.8,166.1 681.1,201.5 681.4,159.9 681.7,205.2 682.0,166.5 682.3,201.7 682.6,156.9 682.9,209.3 683.2,160.6 683.5,207.1 683.8,157.4 684.1,199.9 684.2,155.1 684.4,210.2 684.4,167.8 684.7,205.5 685.0,164.5 685.3,207.3 685.6,166.6 685.9,204.2 686.2,161.0 686.5,200.3 686.8,167.0 687.1,201.6 687.4,166.3 687.7,209.3 687.9,161.4 688.0,161.5 688.1,212.7 688.3,210.4 688.6,172.1 688.9,207.4 689.2,167.0 689.5,211.1 689.8,164.9 690.1,216.6 690.4,161.5 690.7,207.2 691.0,172.3 691.3,218.9 691.6,172.4 691.9,220.0 692.2,173.1 692.4,160.1 692.5,215.1 692.6,221.5 692.8,172.1 693.1,206.6 693.4,167.9 693.7,214.1 694.0,161.5 694.3,205.4 694.6,168.2 694.9,204.1 694.9,155.6 695.1,212.7 695.2,167.1 695.5,202.0 695.8,163.2 696.1,205.0 696.4,158.2 696.7,199.5 697.0,163.8 697.3,205.2 697.6,169.1 697.9,202.2 698.2,169.6 698.5,208.3 698.8,167.5 699.1,198.1 699.2,160.1 699.4,209.0 699.4,166.4 699.7,203.9 700.0,161.7 700.3,206.8 700.6,170.1 700.9,209.6 701.2,172.8 701.5,207.6 701.8,172.6 702.1,209.7 702.4,171.1 702.7,210.0 702.9,161.4 703.0,163.8 703.1,212.7 703.3,210.8 703.6,173.5 703.9,207.6 704.2,174.6 704.5,213.1 704.8,164.2 705.1,212.0 705.4,169.6 705.5,165.2 705.7,219.0 705.7,214.3 706.0,174.8 706.3,209.4 706.6,170.4 706.9,213.5 707.2,167.9 707.5,207.3 707.8,164.3 708.0,157.6 708.1,204.6 708.2,215.3 708.4,172.0 708.7,206.2 709.0,174.5 709.3,213.1 709.6,170.7 709.9,213.5 710.2,171.4 710.5,207.6 710.8,170.4 711.1,218.3 711.4,182.3 711.7,214.6 711.7,171.4 711.9,221.5 712.0,174.1 712.3,215.2 712.6,173.5 712.9,219.3 713.2,176.2 713.5,222.7 713.8,175.0 714.1,219.4 714.4,184.5 714.7,218.5 715.0,172.7 715.0,176.6 715.2,225.8 715.3,219.2 715.6,177.4 715.9,216.2 716.2,173.6 716.5,214.1 716.8,175.6 717.1,215.7 717.4,181.2 717.7,209.8 718.0,170.2 718.0,180.9 718.2,221.5 718.3,212.2 718.6,176.2 718.9,208.1 719.2,180.6 719.5,216.3 719.8,169.3 720.0,168.9 720.1,211.2 720.2,217.8 720.4,175.3 720.7,214.0 721.0,180.0 721.3,213.9 721.6,173.4 721.9,219.6 722.2,174.0 722.5,215.5 722.8,177.2 723.1,220.8 723.4,176.0 723.7,216.1 723.8,170.2 724.0,222.8 724.0,173.2 724.3,216.0 724.6,181.3 724.9,218.5 725.2,170.0 725.5,215.9 725.8,179.9 726.1,212.6 726.4,168.0 726.7,213.0 727.0,170.8 727.3,213.0 727.5,165.2 727.6,172.2 727.7,226.5 727.9,225.8 728.2,175.8 728.5,217.3 728.8,169.3 729.1,222.1 729.4,169.4 729.7,219.9 730.0,177.3 730.0,161.4 730.2,230.3 730.3,223.9 730.6,175.1 730.9,225.1 731.2,174.4 731.5,220.3 731.8,167.7 732.1,222.0 732.4,170.2 732.5,170.2 732.7,224.0 732.7,232.8 733.0,175.8 733.3,217.7 733.6,179.2 733.9,220.7 734.2,173.4 734.5,215.7 734.8,175.3 735.1,211.4 735.4,167.3 735.5,162.6 735.7,212.2 735.7,215.3 736.0,165.1 736.3,207.4 736.6,162.6 736.9,209.6 737.2,163.3 737.5,209.9 737.8,163.7 738.1,201.1 738.4,164.1 738.7,214.8 738.8,149.4 739.0,215.3 739.0,151.8 739.3,214.2 739.6,163.9 739.9,216.4 740.2,157.7 740.5,213.7 740.8,167.4 741.1,208.9 741.4,158.6 741.7,224.9 742.0,163.1 742.3,218.3 742.5,162.6 742.6,166.7 742.7,227.8 742.9,225.4 743.2,168.3 743.5,211.6 743.8,160.1 744.1,216.5 744.4,161.9 744.7,216.2 745.0,171.4 745.3,206.3 745.6,176.0 745.9,201.2 746.2,155.3 746.3,153.9 746.5,208.8 746.5,217.8 746.8,164.9 747.1,197.1 747.4,161.2 747.7,205.2 748.0,161.5 748.3,206.6 748.6,152.7 748.9,200.2 749.2,160.4 749.5,201.2 749.8,160.1 750.1,204.1 750.4,167.0 750.6,147.6 750.7,192.4 750.8,212.7 751.0,169.1 751.3,193.1 751.6,164.0 751.9,196.8 752.2,161.3 752.5,195.6 752.8,174.8 753.1,208.6 753.4,177.3 753.7,199.3 753.8,163.9 754.0,170.2 754.0,211.5 754.3,202.5 754.6,176.4 754.9,196.4 755.2,171.2 755.5,197.3 755.8,165.2 756.1,197.2 756.4,162.9 756.7,194.7 757.0,169.0 757.3,196.8 757.6,160.1 757.6,170.8 757.8,210.2 757.9,199.2 758.2,160.3 758.5,195.8 758.8,157.4 759.1,194.5 759.4,157.2 759.6,144.6 759.7,211.2 759.8,217.8 760.0,160.9 760.3,208.8 760.6,161.7 760.9,193.6 761.2,147.5 761.5,206.3 761.8,150.7 762.1,186.5 762.4,146.6 762.6,145.1 762.7,186.4 762.8,200.2 763.0,147.9 763.3,185.0 763.6,159.6 763.9,183.4 764.2,150.3 764.5,197.8 764.8,153.0 765.1,141.4 765.1,180.3 765.3,197.7 765.4,148.7 765.7,194.2 766.0,145.6 766.3,178.0 766.6,154.1 766.9,189.6 767.2,145.7 767.5,194.4 767.8,140.1 768.1,188.5 768.4,144.3 768.7,179.0 768.8,135.8 769.0,154.0 769.0,192.7 769.3,187.8 769.6,148.7 769.9,191.8 770.2,154.0 770.5,193.0 770.8,144.9 771.1,195.3 771.4,143.5 771.7,185.4 772.0,148.1 772.3,181.1 772.6,153.8 772.6,134.6 772.8,202.7 772.9,190.9 773.2,157.1 773.5,187.3 773.8,150.5 774.1,193.3 774.4,146.9 774.7,191.0 775.0,157.8 775.3,191.9 775.6,156.1 775.6,150.1 775.8,205.2 775.9,196.8 776.2,152.4 776.5,190.1 776.8,168.8 777.1,192.9 777.4,162.0 777.7,200.3 778.0,170.0 778.1,153.9 778.3,193.9 778.3,209.7 778.6,162.6 778.9,192.1 779.2,156.3 779.5,188.7 779.8,156.3 780.1,187.5 780.4,156.7 780.7,196.4 781.0,150.4 781.3,197.2 781.6,164.2 781.9,147.6 781.9,190.3 782.1,197.7 782.2,149.9 782.5,191.7 782.8,159.0 783.1,190.5 783.4,161.4 783.7,190.8 784.0,160.0 784.3,193.4 784.6,163.7 784.9,185.4 785.1,150.1 785.2,163.0 785.3,192.7 785.5,187.9 785.8,149.6 786.1,182.9 786.4,151.2 786.7,179.1 787.0,161.2 787.3,187.2 787.6,156.6 787.9,176.7 788.2,151.6 788.5,188.3 788.8,158.4 788.9,143.9 789.1,190.2 789.1,182.0 789.4,154.1 789.7,173.5 790.0,155.2 790.3,172.1 790.6,151.1 790.9,173.2 791.2,145.8 791.4,135.6 791.5,177.2 791.6,185.2 791.8,140.8 792.1,182.4 792.4,153.9 792.7,178.8 793.0,145.8 793.3,174.6 793.6,153.0 793.9,147.6 793.9,186.2 794.1,186.4 794.2,153.0 794.5,181.1 794.8,155.9 795.1,186.3 795.4,146.5 795.7,174.9 796.0,153.4 796.3,171.7 796.4,140.1 796.6,148.6 796.6,186.4 796.9,177.9 797.2,139.6 797.5,161.3 797.8,142.7 798.1,155.2 798.2,130.1 798.4,165.2 798.4,139.2 798.7,154.1 799.0,138.5 799.3,157.0 799.6,127.3 799.9,160.8 800.2,130.3 800.5,152.3 800.7,122.6 800.8,124.5 800.9,162.6 801.1,151.3 801.4,136.1 801.7,151.6 802.0,128.2 802.3,157.7 802.6,135.4 802.9,152.1 803.2,132.2 803.5,155.4 803.8,130.7 803.9,127.6 804.1,155.3 804.1,162.6 804.4,139.2 804.7,153.5 805.0,138.9 805.3,159.5 805.6,133.3 805.9,161.6 806.2,141.9 806.5,170.3 806.8,138.4 806.9,128.8 807.1,164.5 807.1,172.7 807.4,143.7 807.7,161.8 808.0,146.0 808.3,167.0 808.6,140.0 808.9,164.2 809.2,150.0 809.5,165.5 809.8,154.4 810.1,165.3 810.2,147.6 810.4,173.9 810.4,150.4 810.7,174.0 811.0,156.5 811.3,166.4 811.6,154.4 811.9,168.1 812.2,156.3 812.5,173.9 812.8,157.1 813.1,168.2 813.4,150.9 813.7,172.0 813.9,150.1 814.0,153.8 814.1,176.4 814.3,173.2 814.6,159.1 814.9,178.0 815.2,159.6 815.5,171.2 815.8,157.1 816.1,178.4 816.4,151.8 816.7,172.0 817.0,160.7 817.2,151.4 817.3,172.9 817.4,182.7 817.6,161.8 817.9,183.2 818.2,163.4 818.5,179.8 818.8,164.1 819.1,177.2 819.4,164.8 819.7,180.0 820.0,163.5 820.2,157.6 820.3,188.5 820.4,190.2 820.6,165.0 820.9,185.6 821.2,169.0 821.5,183.8 821.8,168.6 822.1,187.1 822.4,164.6 822.7,187.0 822.7,163.9 822.9,196.5 823.0,175.0 823.3,187.4 823.6,174.6 823.9,189.7 824.2,175.3 824.5,198.3 824.8,173.0 825.1,195.8 825.2,170.2 825.4,172.8 825.4,201.5 825.7,199.7 826.0,180.6 826.3,197.3 826.6,180.7 826.9,194.5 827.2,179.3 827.5,193.5 827.8,181.9 828.1,193.2 828.4,177.0 828.7,200.9 829.0,173.9 829.0,175.0 829.2,201.5 829.3,192.6 829.6,178.0 829.9,193.3 830.1,177.9 830.2,180.8 830.2,172.7 830.4,179.5 830.5,192.7 830.8,177.4 831.1,192.5 831.4,172.0 831.7,201.5 832.0,179.7 832.3,200.5 832.6,170.3 832.7,165.2 832.9,192.9 832.9,204.0 833.2,175.3 833.5,198.2 833.8,181.4 834.1,204.5 834.4,179.2 834.7,205.9 834.9,182.3 835.0,179.7 835.0,174.5 835.2,184.3 835.3,208.4 835.6,187.4 835.7,172.7 835.9,202.3 835.9,211.5 836.2,183.1 836.5,203.4 836.8,182.8 837.1,207.0 837.4,178.6 837.7,206.8 838.0,179.0 838.2,162.6 838.3,208.1 838.4,209.0 838.6,180.2 838.9,210.6 839.2,178.7 839.5,202.4 839.8,179.1 840.1,201.3 840.3,183.6 840.4,177.2 840.4,167.8 840.6,186.1 840.7,202.6 841.0,184.4 841.3,209.8 841.5,165.2 841.6,188.8 841.7,217.8 841.9,212.0 842.2,176.9 842.5,208.0 842.8,178.7 843.1,211.4 843.4,182.3 843.7,203.0 844.0,175.3 844.3,203.4 844.5,161.4 844.6,182.8 844.7,207.7 844.9,203.2 845.2,179.3 845.4,186.3 845.5,201.2 845.5,168.5 845.7,188.7 845.8,182.9 846.1,209.4 846.4,184.7 846.5,167.7 846.7,207.9 846.7,215.3 847.0,188.8 847.3,213.9 847.6,189.3 847.9,204.7 848.2,190.0 848.5,202.7 848.8,183.9 849.1,207.9 849.4,187.7 849.5,160.1 849.7,209.0 849.7,212.7 849.9,189.5 850.0,184.5 850.0,162.4 850.2,192.1 850.3,210.8 850.6,188.5 850.9,212.5 851.2,190.1 851.5,211.8 851.8,187.3 852.1,211.8 852.4,192.6 852.7,217.9 852.8,168.9 853.0,219.0 853.0,197.6 853.3,208.6 853.6,197.1 853.9,209.7 854.2,192.7 854.5,212.2 854.8,190.2 855.0,195.8 855.1,207.8 855.1,164.6 855.3,198.4 855.4,185.4 855.7,208.0 856.0,186.3 856.3,211.4 856.5,161.9 856.6,193.6 856.7,215.3 856.9,209.4 857.2,192.5 857.5,216.7 857.8,195.3 858.1,210.4 858.4,197.0 858.7,209.1 859.0,195.4 859.3,214.8 859.6,199.8 859.8,172.7 859.9,217.9 860.0,220.3 860.1,200.3 860.2,194.8 860.2,172.4 860.4,202.7 860.5,218.7 860.8,195.8 861.1,215.9 861.4,192.7 861.7,213.2 862.0,193.3 862.3,209.8 862.6,193.1 862.8,163.4 862.9,207.5 863.0,215.3 863.2,186.5 863.5,207.3 863.8,189.6 864.1,214.9 864.4,198.1 864.7,212.9 865.0,193.2 865.2,201.6 865.3,215.1 865.3,175.0 865.5,204.1 865.6,201.4 865.9,222.3 866.0,175.2 866.2,197.1 866.2,222.8 866.5,216.1 866.8,200.7 867.1,222.5 867.4,192.7 867.7,222.1 868.0,200.1 868.3,221.0 868.6,195.9 868.9,232.1 869.0,152.6 869.2,193.0 869.2,235.3 869.5,223.4 869.8,205.5 870.1,233.2 870.3,209.3 870.4,207.7 870.4,162.4 870.6,213.4 870.7,243.5 871.0,200.6 871.1,163.9 871.3,245.3 871.3,231.2 871.6,212.4 871.9,238.9 872.2,212.3 872.5,228.3 872.8,210.1 873.1,227.5 873.4,213.1 873.7,230.1 874.0,208.4 874.1,182.7 874.3,235.3 874.3,233.5 874.6,215.9 874.9,229.3 875.2,215.0 875.4,220.2 875.5,237.1 875.5,190.2 875.7,223.1 875.8,220.6 876.1,244.6 876.4,214.1 876.7,248.4 877.0,223.1 877.3,241.0 877.3,190.2 877.5,252.8 877.6,217.1 877.9,240.3 878.2,220.3 878.5,235.9 878.8,213.3 879.1,235.2 879.4,213.5 879.6,186.4 879.7,228.2 879.8,235.3 880.0,217.7 880.2,220.7 880.3,241.0 880.3,189.8 880.5,223.3 880.6,222.1 880.9,240.9 881.2,216.1 881.5,245.5 881.8,219.7 882.1,245.9 882.4,227.3 882.7,259.1 882.8,200.2 883.0,236.6 883.0,262.8 883.3,252.3 883.6,223.8 883.9,253.1 884.2,228.3 884.5,265.1 884.8,225.1 884.8,185.9 885.0,267.9 885.1,263.4 885.4,233.7 885.6,237.8 885.7,258.3 885.7,196.8 885.9,241.8 886.0,233.0 886.3,264.8 886.6,240.0 886.9,257.8 887.2,238.7 887.5,259.9 887.8,231.5 887.8,200.2 888.0,274.1 888.1,262.9 888.4,234.9 888.7,260.0 889.0,227.2 889.3,266.1 889.6,223.5 889.8,190.2 889.9,251.1 890.0,265.4 890.1,234.8 890.2,221.8 890.2,195.3 890.4,238.5 890.5,255.1 890.8,229.1 891.1,248.9 891.4,232.7 891.7,246.6 892.0,230.1 892.3,252.5 892.6,228.1 892.8,195.2 892.9,248.5 893.0,255.3 893.2,229.2 893.5,255.8 893.8,220.4 894.1,246.6 894.4,228.3 894.6,192.7 894.7,245.9 894.8,257.8 895.0,229.4 895.3,248.0 895.5,234.7 895.6,227.7 895.6,203.2 895.8,237.7 895.9,247.7 896.2,229.6 896.5,254.1 896.8,236.2 897.1,256.6 897.4,231.9 897.7,258.9 897.9,212.7 898.0,235.4 898.1,260.3 898.3,253.7 898.6,235.7 898.9,257.1 899.2,237.5 899.5,258.6 899.8,231.4 900.1,255.9 900.3,238.3 900.4,205.2 900.4,230.0 900.4,209.4 900.6,260.3 900.6,241.0 900.7,252.6 901.0,231.0 901.3,254.5 901.6,233.4 901.9,255.1 902.2,227.1 902.5,258.5 902.8,235.0 903.1,256.7 903.4,200.2 903.4,226.8 903.6,257.8 903.7,252.3 904.0,227.3 904.3,250.2 904.6,232.4 904.8,236.1 904.9,257.0 904.9,200.1 905.1,239.1 905.2,231.5 905.5,255.0 905.8,227.4 906.1,250.9 906.4,231.6 906.6,199.5 906.7,258.2 906.8,262.8 907.0,232.0 907.3,262.7 907.6,236.5 907.9,258.1 908.2,230.7 908.5,254.8 908.8,229.0 909.1,255.4 909.4,239.4 909.7,253.6 910.0,238.0 910.2,241.5 910.3,262.5 910.3,213.1 910.4,207.7 910.5,244.3 910.6,264.1 910.6,235.4 910.9,256.9 911.2,236.2 911.5,257.7 911.8,232.6 912.1,255.1 912.4,239.8 912.7,258.3 913.0,235.9 913.3,258.0 913.6,242.2 913.9,256.4 914.1,217.8 914.2,241.4 914.3,260.3 914.5,252.7 914.8,237.7 915.1,250.0 915.3,236.0 915.4,226.7 915.4,198.3 915.6,239.2 915.7,249.1 916.0,218.8 916.3,252.1 916.6,217.1 916.6,177.7 916.8,262.8 916.9,247.7 917.2,231.6 917.5,260.8 917.8,235.7 918.1,252.9 918.4,233.6 918.7,255.5 919.0,241.4 919.1,212.7 919.3,265.3 919.3,267.9 919.6,244.9 919.9,266.5 920.2,235.3 920.4,245.7 920.5,266.9 920.5,215.3 920.7,248.7 920.8,244.4 921.1,264.0 921.4,235.0 921.7,269.2 922.0,244.1 922.3,269.4 922.6,241.6 922.9,265.0 923.2,235.1 923.5,268.1 923.8,242.1 924.1,272.3 924.2,200.2 924.4,275.4 924.4,232.7 924.7,270.6 925.0,246.3 925.3,260.9 925.5,248.2 925.6,247.4 925.6,215.2 925.8,251.2 925.9,269.8 926.2,248.8 926.5,262.2 926.7,220.3 926.8,248.3 926.9,270.4 927.1,269.5 927.4,241.3 927.7,267.8 928.0,247.4 928.3,261.7 928.6,241.5 928.9,262.5 929.2,245.8 929.5,268.3 929.8,247.5 930.0,251.5 930.1,264.0 930.1,225.8 930.3,254.0 930.4,245.4 930.4,221.5 930.6,271.6 930.7,261.7 931.0,245.9 931.3,266.1 931.6,244.8 931.9,261.5 932.2,235.8 932.5,258.7 932.8,229.8 933.1,256.9 933.4,237.8 933.7,262.0 934.0,235.2 934.3,265.7 934.6,231.0 934.7,183.4 934.9,269.1 934.9,254.6 935.2,232.2 935.4,243.6 935.5,257.6 935.5,207.4 935.7,246.9 935.8,246.3 936.1,262.0 936.4,250.0 936.7,235.3 936.7,264.2 936.9,270.4 937.0,254.5 937.3,268.4 937.6,252.7 937.9,263.5 938.2,245.3 938.5,269.6 938.8,244.4 939.1,260.6 939.4,242.5 939.7,217.8 939.7,259.5 939.9,269.1 940.0,242.2 940.3,261.5 940.5,251.0 940.6,250.2 940.6,224.4 940.8,253.3 940.9,265.7 941.2,246.2 941.5,266.2 941.8,248.6 942.1,263.3 942.4,254.6 942.7,268.7 942.9,237.8 943.0,255.8 943.1,270.4 943.3,267.9 943.6,253.6 943.9,263.7 944.2,255.1 944.5,268.6 944.8,249.4 945.1,265.3 945.3,254.7 945.4,248.3 945.4,233.8 945.6,256.5 945.7,266.6 946.0,249.8 946.3,262.1 946.6,247.1 946.7,231.5 946.9,261.0 946.9,267.9 947.2,248.3 947.5,264.9 947.8,250.0 948.1,266.3 948.4,250.3 948.7,268.1 949.0,242.5 949.3,261.7 949.6,247.9 949.8,249.6 949.9,264.0 949.9,224.3 950.0,220.3 950.1,252.1 950.2,269.1 950.2,244.8 950.5,267.4 950.8,246.8 951.1,261.2 951.4,252.2 951.7,260.5 952.0,240.3 952.0,251.7 952.2,265.4"/>
<line x1="193.00" y1="428.2" x2="193.00" y2="713.9" stroke="#dfdfdf" stroke-width="2"/>
<line x1="301.50" y1="428.2" x2="301.50" y2="713.9" stroke="#dfdfdf" stroke-width="2"/>
<line x1="410.00" y1="428.2" x2="410.00" y2="713.9" stroke="#dfdfdf" stroke-width="2"/>
<line x1="518.50" y1="428.2" x2="518.50" y2="713.9" stroke="#dfdfdf" stroke-width="2"/>
<line x1="627.00" y1="428.2" x2="627.00" y2="713.9" stroke="#dfdfdf" stroke-width="2"/>
<line x1="735.50" y1="428.2" x2="735.50" y2="713.9" stroke="#dfdfdf" stroke-width="2"/>
<line x1="844.00" y1="428.2" x2="844.00" y2="713.9" stroke="#dfdfdf" stroke-width="2"/>
<line x1="84.5" y1="499.93" x2="952.0" y2="499.93" stroke="#dfdfdf" stroke-width="2"/>
<line x1="84.5" y1="571.35" x2="952.0" y2="571.35" stroke="#dfdfdf" stroke-width="2"/>
<line x1="84.5" y1="642.77" x2="952.0" y2="642.77" stroke="#dfdfdf" stroke-width="2"/>
<line x1="193.00" y1="713.9" x2="193.00" y2="704.9" stroke="#1e1e1e" stroke-width="1.8"/>
<line x1="193.00" y1="428.2" x2="193.00" y2="437.2" stroke="#1e1e1e" stroke-width="1.8"/>
<line x1="301.50" y1="713.9" x2="301.50" y2="704.9" stroke="#1e1e1e" stroke-width="1.8"/>
<line x1="301.50" y1="428.2" x2="301.50" y2="437.2" stroke="#1e1e1e" stroke-width="1.8"/>
<line x1="410.00" y1="713.9" x2="410.00" y2="704.9" stroke="#1e1e1e" stroke-width="1.8"/>
<line x1="410.00" y1="428.2" x2="410.00" y2="437.2" stroke="#1e1e1e" stroke-width="1.8"/>
<line x1="518.50" y1="713.9" x2="518.50" y2="704.9" stroke="#1e1e1e" stroke-width="1.8"/>
<line x1="518.50" y1="428.2" x2="518.50" y2="437.2" stroke="#1e1e1e" stroke-width="1.8"/>
<line x1="627.00" y1="713.9" x2="627.00" y2="704.9" stroke="#1e1e1e" stroke-width="1.8"/>
<line x1="627.00" y1="428.2" x2="627.00" y2="437.2" stroke="#1e1e1e" stroke-width="1.8"/>
<line x1="735.50" y1="713.9" x2="735.50" y2="704.9" stroke="#1e1e1e" stroke-width="1.8"/>
<line x1="735.50" y1="428.2" x2="735.50" y2="437.2" stroke="#1e1e1e" stroke-width="1.8"/>
<line x1="844.00" y1="713.9" x2="844.00" y2="704.9" stroke="#1e1e1e" stroke-width="1.8"/>
<line x1="844.00" y1="428.2" x2="844.00" y2="437.2" stroke="#1e1e1e" stroke-width="1.8"/>
<line x1="84.5" y1="499.93" x2="93.5" y2="499.93" stroke="#1e1e1e" stroke-width="1.8"/>
<line x1="952.0" y1="499.93" x2="943.0" y2="499.93" stroke="#1e1e1e" stroke-width="1.8"/>
<line x1="84.5" y1="571.35" x2="93.5" y2="571.35" stroke="#1e1e1e" stroke-width="1.8"/>
<line x1="952.0" y1="571.35" x2="943.0" y2="571.35" stroke="#1e1e1e" stroke-width="1.8"/>
<line x1="84.5" y1="642.77" x2="93.5" y2="642.77" stroke="#1e1e1e" stroke-width="1.8"/>
<line x1="952.0" y1="642.77" x2="943.0" y2="642.77" stroke="#1e1e1e" stroke-width="1.8"/>
<rect x="84.10" y="428.10" width="867.90" height="285.80" fill="none" stroke="#1e1e1e" stroke-width="1.8"/>
<text transform="translate(82.30,742.8) scale(1,1.06)" text-anchor="middle" class="t">0</text>
<text transform="translate(190.80,742.8) scale(1,1.06)" text-anchor="middle" class="t">3</text>
<text transform="translate(299.30,742.8) scale(1,1.06)" text-anchor="middle" class="t">6</text>
<text transform="translate(407.80,742.8) scale(1,1.06)" text-anchor="middle" class="t">9</text>
<text transform="translate(516.30,742.8) scale(1,1.06)" text-anchor="middle" class="t">12</text>
<text transform="translate(624.80,742.8) scale(1,1.06)" text-anchor="middle" class="t">15</text>
<text transform="translate(733.30,742.8) scale(1,1.06)" text-anchor="middle" class="t">18</text>
<text transform="translate(841.80,742.8) scale(1,1.06)" text-anchor="middle" class="t">21</text>
<text transform="translate(950.30,742.8) scale(1,1.06)" text-anchor="middle" class="t">24</text>
<text transform="translate(69.1,435.90) scale(1,1.06)" text-anchor="end" class="t">200</text>
<text transform="translate(69.1,507.32) scale(1,1.06)" text-anchor="end" class="t">100</text>
<text transform="translate(73.1,578.75) scale(1,1.06)" text-anchor="end" class="t">0</text>
<text transform="translate(70.1,650.17) scale(1,1.06)" text-anchor="end" class="t">-100</text>
<text transform="translate(70.1,721.60) scale(1,1.06)" text-anchor="end" class="t">-200</text>
<path class="d" clip-path="url(#cp)" d="M84.5 522.0 L84.6 565.0 L85.4 545.0 L86.2 580.0M86.2 601.3 L86.6 532.2 L87.0 575.9 L87.3 562.1 L87.7 603.4 L88.1 543.8 L88.5 600.6 L88.9 559.9 L89.2 600.9 L89.6 552.8 L90.0 602.6 L90.4 569.5 L90.8 600.2 L91.1 564.4 L91.5 611.9 L91.9 548.5 L92.3 629.2 L92.7 569.1 L93.0 621.1 L93.4 585.4 L93.8 613.9 L94.2 601.9 L94.6 639.5 L94.9 596.9 L95.3 641.7 L95.7 575.7 L96.1 650.7 L96.5 592.3 L96.8 637.6 L97.2 611.9 L97.6 637.1 L98.0 603.3 L98.4 636.4 L98.7 564.7 L99.1 633.6 L99.5 587.5 L99.9 632.1 L100.3 559.1 L100.6 617.6 L101.0 542.4 L101.4 609.6 L101.8 533.8 L102.2 584.7 L102.5 513.5 L102.9 600.7 L103.3 541.0 L103.7 589.5 L104.1 517.0 L104.4 575.2 L104.8 522.3 L105.2 573.6 L105.6 496.7 L106.0 558.8 L106.3 481.6 L106.7 537.2 L107.1 461.8 L107.5 557.1 L107.9 493.4 L108.2 551.0 L108.6 490.4 L109.0 563.7 L109.4 516.6 L109.8 553.5 L110.1 530.6 L110.5 573.9 L110.9 542.7 L111.3 577.8 L111.7 540.4 L112.0 571.6 L112.4 540.0 L112.8 565.5 L113.2 515.2 L113.6 543.4 L113.9 493.7 L114.3 534.9 L114.7 469.2 L115.1 512.1 L115.5 476.9 L115.8 510.5 L116.2 445.3 L116.6 506.7 L117.0 471.4 L117.4 509.6 L117.7 449.2 L118.1 508.7 L118.5 464.1 L118.9 499.8 L119.3 466.3M124.2 668.0 L124.6 615.6 L125.0 648.2 L125.3 592.8 L125.7 641.8 L126.1 606.8 L126.5 665.6 L126.9 617.2 L127.2 642.9 L127.6 601.9 L128.0 648.3 L128.4 611.4 L128.8 638.4 L129.1 617.3 L129.5 630.8 L129.9 590.5 L130.3 614.6 L130.7 565.6 L131.0 608.6 L131.4 565.6 L131.8 606.4 L132.2 578.7 L132.6 640.8 L132.9 578.4 L133.3 610.8 L133.7 555.8 L134.1 619.7 L134.5 590.0 L134.8 639.8 L135.2 591.2 L135.6 608.2 L136.0 591.9 L136.4 622.3 L136.7 582.1 L137.1 609.7 L137.5 590.9 L137.9 607.0 L138.3 588.0 L138.6 625.0 L139.0 581.1 L139.4 629.0 L139.8 580.9 L140.2 629.2 L140.5 584.1 L140.9 621.4 L141.3 597.6 L141.7 627.5 L142.1 597.3 L142.4 615.9 L142.8 597.1 L143.2 637.4 L143.6 609.0 L144.0 634.6 L144.3 607.7 L144.7 636.9 L145.1 617.7 L145.5 652.0 L145.9 625.2 L146.2 659.1 L146.6 634.0 L147.0 659.2 L147.4 642.1 L147.8 671.1 L148.1 662.6 L148.5 675.8 L148.9 668.5M158.0 465.4 L158.4 498.6 L158.8 456.5 L159.2 517.5 L159.5 447.1 L159.9 523.0 L160.3 479.7 L160.7 512.0 L161.1 489.0 L161.4 521.4 L161.8 485.5 L162.2 524.5 L162.6 477.3 L163.0 507.4 L163.3 478.7 L163.7 510.6 L164.1 485.6 L164.5 494.3 L164.9 470.6 L165.2 495.0 L165.6 466.1 L166.0 499.3 L166.4 485.2 L166.8 498.9 L167.1 481.0 L167.5 494.7 L167.9 465.5 L168.3 495.8 L168.7 462.1 L169.0 498.5 L169.4 464.6 L169.8 506.1 L170.2 443.1 L170.6 501.0 L170.9 458.3 L171.3 494.8 L171.7 453.5 L172.1 477.5 L172.5 455.4 L172.8 482.8 L173.2 457.8 L173.6 495.9 L174.0 505.6 L174.4 585.0 L174.7 588.3 L175.1 687.2 L175.5 632.8 L175.9 676.1 L176.3 619.7 L176.6 678.7 L177.0 653.3 L177.4 689.4 L177.8 650.3 L178.2 675.9 L178.5 624.6 L178.9 688.2 L179.3 653.9 L179.7 681.5 L180.1 642.9 L180.4 683.5 L180.8 651.6 L181.2 687.5 L181.6 657.8 L182.0 679.3 L182.3 651.1 L182.7 698.8 L183.1 661.7 L183.5 694.3 L183.9 660.2 L184.2 689.6 L184.6 655.8 L185.0 687.0 L185.4 647.5 L185.8 685.6 L186.1 664.5 L186.5 679.1 L186.9 666.3 L187.3 697.2 L187.7 653.7 L188.0 699.8 L188.4 653.6 L188.8 678.3 L189.2 655.5 L189.6 695.5 L189.9 649.8 L190.3 687.9 L190.7 655.1 L191.1 685.7 L191.5 638.4 L191.8 678.8 L192.2 639.9 L192.6 679.3 L193.0 610.9 L193.4 684.7 L193.7 596.6 L194.1 681.7 L194.5 619.8 L194.9 655.8 L195.3 611.3 L195.6 656.4 L196.0 613.3 L196.4 673.6 L196.8 592.9 L197.2 667.7 L197.5 602.1 L197.9 647.8 L198.3 622.0 L198.7 674.2 L199.1 630.7 L199.4 654.6 L199.8 636.1 L200.2 650.4 L200.6 621.6 L201.0 676.1 L201.3 633.2 L201.7 653.4 L202.1 631.3 L202.5 644.8 L202.9 613.0 L203.2 643.1 L203.6 593.9 L204.0 615.7 L204.4 568.8 L204.8 593.9 L205.1 526.7 L205.5 608.8 L205.9 569.4 L206.3 606.8 L206.7 558.5 L207.0 605.0 L207.4 560.4 L207.8 613.8 L208.2 571.3 L208.6 614.5 L208.9 569.5 L209.3 628.9 L209.7 593.6 L210.1 620.8 L210.5 608.6 L210.8 627.5 L211.2 613.7 L211.6 660.8 L212.0 630.9 L212.4 667.6 L212.7 627.0 L213.1 665.4 L213.5 618.9 L213.9 677.4 L214.3 618.5 L214.6 659.6 L215.0 611.2 L215.4 652.8 L215.8 621.2 L216.2 673.4 L216.5 628.8 L216.9 691.4 L217.3 652.7M227.2 625.0 L227.6 678.0 L227.9 625.4 L228.3 697.7 L228.7 631.1 L229.1 664.4 L229.5 640.7 L229.8 684.8 L230.2 633.7 L230.6 681.5 L231.0 640.7 L231.4 666.9 L231.7 638.0 L232.1 683.6 L232.5 643.5 L232.9 689.5 L233.3 634.2 L233.6 669.2 L234.0 633.6 L234.4 689.1 L234.8 650.1 L235.2 688.1 L235.5 633.3 L235.9 665.3 L236.3 620.4 L236.7 658.0 L237.1 581.7 L237.4 559.1 L237.8 466.8 L238.2 504.4 L238.6 458.7 L239.0 490.6 L239.3 442.8 L239.7 484.6 L240.1 471.1 L240.5 495.4 L240.9 446.2 L241.2 503.8 L241.6 451.9 L242.0 502.4 L242.4 457.5 L242.8 501.5 L243.1 473.6 L243.5 509.6 L243.9 482.6 L244.3 495.7 L244.7 462.3 L245.0 497.8 L245.4 465.4 L245.8 525.9 L246.2 483.2 L246.6 537.8 L246.9 476.6 L247.3 555.8 L247.7 502.8 L248.1 526.9 L248.5 492.2 L248.8 537.4 L249.2 495.0 L249.6 513.4 L250.0 489.5 L250.4 521.3 L250.7 495.0 L251.1 504.1 L251.5 482.5 L251.9 498.1 L252.3 456.5 L252.6 489.5 L253.0 452.0 L253.4 492.5 L253.8 454.7 L254.2 502.5 L254.5 466.5 L254.9 498.1 L255.3 460.0 L255.7 499.6 L256.1 469.0 L256.4 531.9 L256.8 509.7 L257.2 569.3 L257.6 548.6 L258.0 595.5 L258.3 570.1 L258.7 624.3 L259.1 585.5 L259.5 665.0 L259.9 622.4 L260.2 671.0 L260.6 642.0 L261.0 677.4 L261.4 643.1 L261.8 672.6 L262.1 619.0 L262.5 668.1 L262.9 624.6 L263.3 678.7 L263.7 641.4 L264.0 675.2 L264.4 645.4 L264.8 675.1 L265.2 634.9 L265.6 669.4 L265.9 622.6 L266.3 668.2 L266.7 555.7 L267.1 578.0 L267.5 508.4 L267.8 551.2 L268.2 513.1 L268.6 529.4 L269.0 513.1 L269.4 529.1 L269.7 501.2 L270.1 530.7 L270.5 503.0 L270.9 532.3 L271.3 493.3 L271.6 523.9 L272.0 469.6 L272.4 504.3 L272.8 454.0 L273.2 496.0 L273.5 445.8 L273.9 517.0 L274.3 471.3 L274.7 518.4 L275.1 474.5 L275.4 532.9 L275.8 497.4 L276.2 551.2 L276.6 511.3 L277.0 565.5 L277.3 530.7 L277.7 577.7 L278.1 560.2 L278.5 608.9 L278.9 583.8 L279.2 613.2 L279.6 594.3 L280.0 634.3 L280.4 595.6 L280.8 629.1 L281.1 586.8 L281.5 628.1 L281.9 590.1 L282.3 633.0 L282.7 621.8 L283.0 644.5 L283.4 617.1 L283.8 665.5 L284.2 607.0 L284.6 665.9 L284.9 624.5 L285.3 664.9 L285.7 636.9 L286.1 680.8 L286.5 640.1 L286.8 672.7 L287.2 640.6 L287.6 676.5 L288.0 657.4 L288.4 692.3 L288.7 643.7 L289.1 648.7 L289.5 619.7 L289.9 630.0 L290.3 593.2 L290.6 608.3 L291.0 578.9 L291.4 599.2 L291.8 576.8 L292.2 602.3 L292.5 569.8 L292.9 591.2 L293.3 555.7 L293.7 579.7 L294.1 568.5 L294.4 602.9 L294.8 562.3 L295.2 606.7 L295.6 571.9 L296.0 604.1 L296.3 549.8 L296.7 596.3 L297.1 543.8 L297.5 594.5 L297.9 546.5 L298.2 595.8 L298.6 536.9 L299.0 568.7 L299.4 521.4 L299.8 557.3 L300.1 509.8 L300.5 560.7 L300.9 512.3 L301.3 553.9 L301.7 495.2 L302.0 562.1 L302.4 488.7 L302.8 531.9 L303.2 486.7 L303.6 520.3 L303.9 483.5 L304.3 492.4M312.3 621.1 L312.7 665.2 L313.1 624.0 L313.4 661.5 L313.8 612.3 L314.2 632.2 L314.6 612.1 L315.0 639.0 L315.3 616.1 L315.7 624.7 L316.1 607.2 L316.5 625.4 L316.9 609.9 L317.2 636.5 L317.6 609.5 L318.0 644.2 L318.4 596.1 L318.8 622.2 L319.1 592.0 L319.5 627.8 L319.9 603.8 L320.3 636.0 L320.7 613.2 L321.0 635.5 L321.4 613.2 L321.8 619.2 L322.2 584.0 L322.6 617.7 L322.9 580.3 L323.3 600.9 L323.7 561.2 L324.1 579.6 L324.5 552.5 L324.8 567.8 L325.2 546.7 L325.6 557.2 L326.0 535.7 L326.4 549.2 L326.7 528.2 L327.1 552.4 L327.5 517.1 L327.9 573.1 L328.3 525.5 L328.6 577.9 L329.0 550.2 L329.4 592.3 L329.8 570.3 L330.2 588.9 L330.5 570.0 L330.9 612.3 L331.3 592.1 L331.7 614.3 L332.1 596.7 L332.4 622.3 L332.8 600.3 L333.2 628.4 L333.6 598.6 L334.0 639.2 L334.3 596.3 L334.7 620.4 L335.1 590.9 L335.5 615.4 L335.9 562.4 L336.2 593.9 L336.6 553.5 L337.0 598.7 L337.4 539.4 L337.8 568.9 L338.1 534.3 L338.5 567.1 L338.9 538.7 L339.3 572.1 L339.7 516.0 L340.0 566.1 L340.4 504.4 L340.8 560.2 L341.2 502.5 L341.6 527.7 L341.9 480.6 L342.3 546.8 L342.7 466.8 L343.1 529.3 L343.5 489.7 L343.8 510.4 L344.2 482.8 L344.6 525.3 L345.0 460.8 L345.4 507.0 L345.7 453.8 L346.1 538.2 L346.5 465.8 L346.9 522.4 L347.3 492.8 L347.6 518.0 L348.0 485.6 L348.4 531.7 L348.8 502.3 L349.2 537.0 L349.5 499.6 L349.9 527.8 L350.3 506.4 L350.7 533.9 L351.1 502.4 L351.4 527.4 L351.8 502.4 L352.2 523.0 L352.6 493.0 L353.0 522.1 L353.3 487.7 L353.7 504.0 L354.1 473.1 L354.5 499.5 L354.9 465.9 L355.2 507.1 L355.6 466.8 L356.0 498.0 L356.4 448.5 L356.8 495.9 L357.1 454.6 L357.5 485.8 L357.9 456.8 L358.3 484.9 L358.7 458.5 L359.0 476.7 L359.4 452.7 L359.8 475.5 L360.2 452.5 L360.6 482.8 L360.9 455.7 L361.3 473.4 L361.7 449.2 L362.1 488.5 L362.5 457.6 L362.8 483.2 L363.2 448.0 L363.6 489.0 L364.0 447.5 L364.4 476.4 L364.7 458.0 L365.1 488.9 L365.5 456.6 L365.9 471.5 L366.3 444.1 L366.6 476.6 L367.0 457.4 L367.4 480.4 L367.8 459.3 L368.2 491.1 L368.5 457.7 L368.9 485.3 L369.3 456.4 L369.7 496.1 L370.1 466.9 L370.4 491.0 L370.8 466.5 L371.2 482.2 L371.6 458.4 L372.0 489.0 L372.3 476.2 L372.7 500.7 L373.1 469.7 L373.5 509.3 L373.9 488.1 L374.2 518.1 L374.6 479.6 L375.0 508.7 L375.4 491.9 L375.8 531.3 L376.1 475.5 L376.5 515.2 L376.9 481.6 L377.3 537.0 L377.7 489.0 L378.0 535.0 L378.4 495.1 L378.8 525.6 L379.2 507.2 L379.6 524.2 L379.9 494.7 L380.3 527.9 L380.7 491.6 L381.1 538.8 L381.5 495.2 L381.8 561.3 L382.2 497.6 L382.6 541.7 L383.0 498.8 L383.4 531.7 L383.7 504.9 L384.1 541.9 L384.5 487.3 L384.9 525.9 L385.3 488.3 L385.6 539.2 L386.0 513.4 L386.4 536.0 L386.8 508.2 L387.2 534.2 L387.5 525.8 L387.9 551.0M394.0 686.1 L394.4 637.0 L394.8 679.5 L395.1 630.7 L395.5 673.2 L395.9 634.7 L396.3 644.7 L396.7 618.0 L397.0 638.7 L397.4 616.6 L397.8 636.0 L398.2 593.4 L398.6 638.3 L398.9 589.0 L399.3 658.0 L399.7 616.1 L400.1 653.9 L400.5 625.4 L400.8 666.4 L401.2 625.7 L401.6 661.3 L402.0 647.5 L402.4 687.1 L402.7 661.9 L403.1 678.8 L403.5 616.8 L403.9 611.3 L404.3 547.5 L404.6 562.5 L405.0 509.9 L405.4 512.2 L405.8 458.1 L406.2 498.2 L406.5 450.3 L406.9 492.5 L407.3 443.2 L407.7 485.2 L408.1 444.9M434.3 662.1 L434.7 639.0 L435.0 695.0 L435.4 648.9 L435.8 687.0 L436.2 605.6 L436.6 687.1 L436.9 606.2M440.4 513.4 L440.7 470.1 L441.1 540.5 L441.5 480.9 L441.9 533.7 L442.3 476.1 L442.6 528.3 L443.0 513.9 L443.4 545.8 L443.8 498.4 L444.2 547.3 L444.5 493.5 L444.9 522.9 L445.3 474.7 L445.7 505.1 L446.1 481.4 L446.4 516.7 L446.8 452.8 L447.2 497.8 L447.6 447.7 L448.0 482.9 L448.3 451.6 L448.7 484.7M456.3 648.7 L456.7 634.3 L457.1 648.4 L457.5 632.1 L457.8 663.6 L458.2 638.0 L458.6 670.7 L459.0 646.6 L459.4 670.8 L459.7 637.2 L460.1 669.5 L460.5 627.4 L460.9 663.1 L461.3 640.2 L461.6 672.6 L462.0 641.9 L462.4 687.2 L462.8 632.0 L463.2 676.3 L463.5 627.6 L463.9 673.5M468.5 491.7 L468.9 454.4 L469.2 495.5 L469.6 480.4 L470.0 505.9 L470.4 496.3 L470.8 518.1 L471.1 514.3 L471.5 541.5 L471.9 517.1 L472.3 559.4 L472.7 543.0 L473.0 574.0 L473.4 564.4 L473.8 602.1 L474.2 578.8 L474.6 601.8 L474.9 582.0 L475.3 610.7 L475.7 564.1 L476.1 610.0 L476.5 570.0 L476.8 589.7 L477.2 573.4 L477.6 603.9 L478.0 555.2 L478.4 593.9 L478.7 560.5 L479.1 593.4 L479.5 561.5 L479.9 589.9 L480.3 548.2 L480.6 589.9 L481.0 534.5 L481.4 580.0 L481.8 520.0 L482.2 572.4 L482.5 527.2 L482.9 590.1 L483.3 528.1 L483.7 576.9 L484.1 545.9 L484.4 592.8 L484.8 550.6 L485.2 585.5 L485.6 538.3 L486.0 567.3 L486.3 539.3 L486.7 573.2 L487.1 535.5 L487.5 575.8 L487.9 512.5 L488.2 554.6 L488.6 507.9 L489.0 560.7 L489.4 490.9 L489.8 539.5 L490.1 476.6 L490.5 540.5 L490.9 516.5 L491.3 556.3 L491.7 517.2 L492.0 555.1 L492.4 531.4 L492.8 563.1 L493.2 510.1 L493.6 541.7 L493.9 491.8 L494.3 537.7 L494.7 494.0 L495.1 532.5 L495.5 470.6 L495.8 555.6 L496.2 529.7 L496.6 623.9 L497.0 611.2 L497.4 635.8 L497.7 607.7 L498.1 635.3 L498.5 591.0 L498.9 639.9 L499.3 599.9 L499.6 647.3 L500.0 610.5 L500.4 645.9 L500.8 604.8 L501.2 622.5 L501.5 596.5 L501.9 627.1 L502.3 588.2 L502.7 627.2 L503.1 612.3 L503.4 628.4 L503.8 623.3 L504.2 652.8 L504.6 612.1 L505.0 650.9 L505.3 632.3 L505.7 667.9 L506.1 607.5 L506.5 678.6M517.1 593.5 L517.5 528.6 L517.9 578.8 L518.3 540.6 L518.6 576.4 L519.0 540.3 L519.4 563.5 L519.8 518.7 L520.2 567.9 L520.5 520.8 L520.9 562.9 L521.3 532.7 L521.7 562.2 L522.1 524.3 L522.4 553.6 L522.8 517.1 L523.2 570.3 L523.6 533.0 L524.0 550.5 L524.3 518.2 L524.7 562.6 L525.1 533.0 L525.5 560.4 L525.9 533.7 L526.2 567.9 L526.6 526.5 L527.0 562.7 L527.4 543.6 L527.8 569.9 L528.1 545.1 L528.5 578.5 L528.9 561.5 L529.3 585.1 L529.7 568.0 L530.0 641.5 L530.4 591.6 L530.8 657.6M539.2 695.4 L539.5 646.8 L539.9 672.9 L540.3 624.7 L540.7 664.9 L541.1 648.7 L541.4 694.9 L541.8 644.1 L542.2 669.8 L542.6 634.3 L543.0 689.4 L543.3 645.6 L543.7 685.9 L544.1 631.8 L544.5 665.4 L544.9 616.5 L545.2 638.9 L545.6 593.2 L546.0 628.5 L546.4 589.5 L546.8 633.2 L547.1 590.7 L547.5 624.3 L547.9 592.4 L548.3 598.9 L548.7 578.4 L549.0 596.4 L549.4 574.9 L549.8 612.5 L550.2 577.1 L550.6 612.8 L550.9 583.4 L551.3 605.2 L551.7 552.1 L552.1 567.9 L552.5 528.2 L552.8 556.7 L553.2 513.8 L553.6 543.4 L554.0 526.7 L554.4 546.0 L554.7 507.1 L555.1 539.9 L555.5 522.0 L555.9 549.9 L556.3 513.4 L556.6 553.8 L557.0 514.4 L557.4 554.4 L557.8 526.0 L558.2 555.5 L558.5 529.3 L558.9 535.4 L559.3 519.3 L559.7 543.1 L560.1 500.8 L560.4 540.6 L560.8 478.8 L561.2 537.1 L561.6 488.2 L562.0 521.6 L562.3 482.6 L562.7 530.7 L563.1 502.6 L563.5 531.4 L563.9 518.8 L564.2 534.2 L564.6 519.8 L565.0 563.9 L565.4 531.1 L565.8 583.1 L566.1 565.9 L566.5 601.8 L566.9 566.5 L567.3 615.0 L567.7 585.3 L568.0 614.5 L568.4 602.2 L568.8 630.5 L569.2 587.6 L569.6 626.1 L569.9 598.0 L570.3 658.9 L570.7 619.9 L571.1 672.4 L571.5 635.9 L571.8 667.4 L572.2 634.5 L572.6 694.2 L573.0 647.6 L573.4 674.0 L573.7 636.4 L574.1 684.9 L574.5 640.2 L574.9 673.9 L575.3 649.4 L575.6 669.1 L576.0 650.6 L576.4 678.5 L576.8 640.6 L577.2 685.4 L577.5 622.7 L577.9 674.6 L578.3 622.2 L578.7 687.7 L579.1 646.8 L579.4 675.4 L579.8 633.9 L580.2 691.2 L580.6 660.6 L581.0 691.7 L581.3 648.9 L581.7 683.2 L582.1 634.7 L582.5 671.0 L582.9 635.5M590.1 479.3 L590.5 442.8 L590.8 470.1 L591.2 444.1 L591.6 484.5 L592.0 458.4 L592.4 484.2 L592.7 448.9 L593.1 485.2 L593.5 450.7 L593.9 476.6 L594.3 451.5 L594.6 484.8 L595.0 537.1 L595.4 650.7 L595.8 645.9 L596.2 660.6 L596.5 629.5 L596.9 651.0 L597.3 616.0 L597.7 643.5 L598.1 615.2 L598.4 633.8 L598.8 609.5 L599.2 623.1 L599.6 608.6 L600.0 631.0 L600.3 590.7 L600.7 625.8 L601.1 605.3 L601.5 619.1 L601.9 610.8 L602.2 626.8 L602.6 608.9 L603.0 626.0 L603.4 612.9 L603.8 644.6 L604.1 607.1 L604.5 638.5 L604.9 628.6 L605.3 655.8 L605.7 611.7 L606.0 628.1 L606.4 600.1 L606.8 610.5 L607.2 580.6 L607.6 594.2 L607.9 566.8 L608.3 584.4 L608.7 539.2 L609.1 565.1 L609.5 539.8 L609.8 561.4 L610.2 527.1 L610.6 558.9 L611.0 520.0 L611.4 543.2 L611.7 516.2 L612.1 540.7 L612.5 513.9 L612.9 541.0 L613.3 507.4 L613.6 532.1 L614.0 512.8 L614.4 524.3 L614.8 496.2 L615.2 548.4 L615.5 510.7 L615.9 533.2 L616.3 505.3 L616.7 546.8 L617.1 518.1 L617.4 555.0 L617.8 530.0 L618.2 549.6 L618.6 518.1 L619.0 567.3 L619.3 524.3 L619.7 607.3 L620.1 569.6 L620.5 649.1 L620.9 585.8 L621.2 646.6 L621.6 597.0 L622.0 615.8 L622.4 573.8 L622.8 616.4 L623.1 583.1 L623.5 633.8 L623.9 577.9 L624.3 618.3 L624.7 577.8 L625.0 615.2 L625.4 588.0 L625.8 643.5 L626.2 591.6 L626.6 627.9 L626.9 581.7 L627.3 642.4 L627.7 585.8 L628.1 636.7 L628.5 568.0 L628.8 613.8 L629.2 557.5 L629.6 601.8 L630.0 568.3 L630.4 592.2 L630.7 564.2 L631.1 581.3 L631.5 549.1 L631.9 589.8 L632.3 535.2 L632.6 575.6 L633.0 533.5 L633.4 577.7 L633.8 544.7 L634.2 578.7 L634.5 514.8 L634.9 590.7 L635.3 529.1 L635.7 572.6 L636.1 553.4 L636.4 583.5 L636.8 528.9 L637.2 589.5 L637.6 548.4 L638.0 604.2 L638.3 562.3 L638.7 583.7 L639.1 540.3 L639.5 576.2 L639.9 532.2 L640.2 595.7 L640.6 550.8 L641.0 600.5 L641.4 555.4 L641.8 603.5 L642.1 570.3 L642.5 611.6 L642.9 568.1 L643.3 616.7 L643.7 552.9 L644.0 612.7 L644.4 584.4 L644.8 609.2 L645.2 554.6 L645.6 621.6 L645.9 562.1 L646.3 617.6 L646.7 555.8 L647.1 635.3 L647.5 567.9 L647.8 624.3 L648.2 585.9 L648.6 601.9 L649.0 581.3 L649.4 627.4 L649.7 556.7 L650.1 628.4 L650.5 554.4 L650.9 600.1 L651.3 584.5 L651.6 605.2 L652.0 582.6 L652.4 613.4 L652.8 549.8 L653.2 620.1 L653.5 575.2 L653.9 606.9 L654.3 547.0 L654.7 598.6 L655.1 545.2 L655.4 575.3 L655.8 517.2 L656.2 589.0 L656.6 500.4 L657.0 559.5 L657.3 509.0 L657.7 542.5M661.9 541.3 L662.3 581.0 L662.7 549.3M666.1 632.3 L666.5 564.8 L666.8 616.1 L667.2 555.2 L667.6 605.5 L668.0 549.8 L668.4 626.9 L668.7 559.7 L669.1 614.4 L669.5 564.3 L669.9 648.9 L670.3 594.2 L670.6 622.2 L671.0 571.7 L671.4 619.6 L671.8 593.8 L672.2 619.4 L672.5 588.1 L672.9 604.1 L673.3 580.4 L673.7 583.9 L674.1 543.8 L674.4 571.6 L674.8 529.6 L675.2 559.3 L675.6 518.3 L676.0 575.3 L676.3 503.1 L676.7 543.6 L677.1 521.0 L677.5 547.6 L677.9 526.1 L678.2 566.8 L678.6 533.5 L679.0 562.1 L679.4 522.9 L679.8 567.2 L680.1 513.5 L680.5 560.8 L680.9 519.6 L681.3 553.0 L681.7 528.0 L682.0 570.2 L682.4 540.7 L682.8 571.4 L683.2 547.5 L683.6 569.5 L683.9 539.6 L684.3 570.6 L684.7 550.6 L685.1 565.3 L685.5 547.1 L685.8 575.6 L686.2 547.2 L686.6 565.9 L687.0 545.5 L687.4 566.1 L687.7 546.3 L688.1 571.1 L688.5 532.5 L688.9 560.7 L689.3 539.2 L689.6 575.3 L690.0 532.0 L690.4 551.6 L690.8 534.6 L691.2 575.4 L691.5 530.9 L691.9 578.7 L692.3 560.1 L692.7 592.5 L693.1 577.9 L693.4 590.0 L693.8 582.8 L694.2 603.1 L694.6 578.4 L695.0 612.3 L695.3 576.8 L695.7 628.0 L696.1 587.2 L696.5 625.0 L696.9 588.0 L697.2 650.2 L697.6 588.0 L698.0 619.3 L698.4 587.6 L698.8 623.3 L699.1 588.1 L699.5 613.2 L699.9 587.2 L700.3 630.6 L700.7 594.7 L701.0 626.3 L701.4 602.8 L701.8 628.4 L702.2 611.2 L702.6 634.6 L702.9 630.9 L703.3 644.3 L703.7 623.2 L704.1 673.9 L704.5 633.6 L704.8 675.1 L705.2 631.0 L705.6 669.5 L706.0 612.3 L706.4 654.6 L706.7 616.8 L707.1 625.9 L707.5 597.4 L707.9 626.5 L708.3 598.3 L708.6 641.1 L709.0 610.6 L709.4 627.5 L709.8 603.8 L710.2 646.3 L710.5 589.3 L710.9 642.9 L711.3 598.8 L711.7 626.1 L712.1 578.5 L712.4 613.2 L712.8 581.8 L713.2 608.3 L713.6 573.6 L714.0 612.2 L714.3 580.7 L714.7 616.1 L715.1 583.1 L715.5 618.8 L715.9 577.9 L716.2 607.3 L716.6 569.4 L717.0 605.9 L717.4 567.9 L717.8 602.5 L718.1 564.3 L718.5 587.3 L718.9 560.2 L719.3 587.0 L719.7 558.4 L720.0 575.3 L720.4 535.8 L720.8 561.0 L721.2 534.7 L721.6 547.6 L721.9 510.6 L722.3 550.5 L722.7 496.9 L723.1 543.8 L723.5 502.3 L723.8 548.4 L724.2 521.0 L724.6 548.5 L725.0 508.6 L725.4 552.8 L725.7 524.5 L726.1 552.9 L726.5 524.8 L726.9 548.6 L727.3 521.3 L727.6 554.2 L728.0 534.8 L728.4 552.7 L728.8 528.3 L729.2 533.1 L729.5 499.5 L729.9 535.9 L730.3 498.9 L730.7 525.0 L731.1 495.3 L731.4 513.3 L731.8 489.5 L732.2 504.5 L732.6 488.5 L733.0 512.7 L733.3 481.8 L733.7 504.3 L734.1 490.2 L734.5 497.8 L734.9 484.8 L735.2 496.6 L735.6 466.1 L736.0 504.2 L736.4 475.4 L736.8 498.4 L737.1 475.8 L737.5 503.7 L737.9 474.7 L738.3 516.7 L738.7 497.0 L739.0 513.5 L739.4 494.2 L739.8 524.6 L740.2 499.6 L740.6 534.6 L740.9 513.5 L741.3 534.4 L741.7 497.8 L742.1 522.2 L742.5 503.4 L742.8 525.7 L743.2 495.9 L743.6 517.6 L744.0 487.9 L744.4 500.0 L744.7 473.5 L745.1 507.1 L745.5 457.1 L745.9 494.1 L746.3 449.8 L746.6 480.2 L747.0 442.8 L747.4 477.1 L747.8 448.8 L748.2 472.7 L748.5 459.9 L748.9 492.7 L749.3 457.1 L749.7 512.3 L750.1 497.9 L750.4 530.9 L750.8 510.7 L751.2 530.4 L751.6 506.9 L752.0 516.6 L752.3 490.7 L752.7 524.9 L753.1 501.8 L753.5 539.3 L753.9 514.7 L754.2 544.2 L754.6 530.6 L755.0 553.2 L755.4 538.8 L755.8 555.1 L756.1 537.4 L756.5 562.4 L756.9 546.2 L757.3 573.0 L757.7 554.5 L758.0 578.8 L758.4 559.5 L758.8 571.2 L759.2 554.4 L759.6 587.0 L759.9 558.8 L760.3 595.1 L760.7 568.5 L761.1 592.4 L761.5 568.8 L761.8 607.3 L762.2 579.7 L762.6 611.3 L763.0 569.1 L763.4 605.1 L763.7 593.4 L764.1 607.0 L764.5 582.4 L764.9 610.5 L765.3 569.8 L765.6 603.2 L766.0 562.7 L766.4 607.0 L766.8 553.4 L767.2 603.1 L767.5 573.7 L767.9 611.5 L768.3 564.4 L768.7 617.3 L769.1 543.9 L769.4 590.6 L769.8 552.6 L770.2 598.6 L770.6 548.7 L771.0 590.8 L771.3 561.1 L771.7 598.4 L772.1 566.7 L772.5 599.7 L772.9 570.1 L773.2 596.5 L773.6 570.4 L774.0 611.6 L774.4 566.8 L774.8 590.5 L775.1 569.8 L775.5 607.3 L775.9 563.4 L776.3 590.6 L776.7 570.8 L777.0 599.9 L777.4 561.3 L777.8 595.8 L778.2 558.7 L778.6 609.7 L778.9 579.7 L779.3 602.2 L779.7 564.5 L780.1 606.5 L780.5 557.4 L780.8 596.0 L781.2 565.3 L781.6 596.4 L782.0 578.2 L782.4 629.0 L782.7 621.9 L783.1 667.8 L783.5 604.1 L783.9 673.6 L784.3 618.8 L784.6 663.8 L785.0 633.7 L785.4 667.4 L785.8 617.2 L786.2 652.9 L786.5 627.4 L786.9 650.6 L787.3 631.8 L787.7 668.7 L788.1 641.4 L788.4 652.0 L788.8 640.5 L789.2 674.7 L789.6 634.1 L790.0 675.1 L790.3 632.6 L790.7 675.9 L791.1 636.5 L791.5 656.1 L791.9 647.1 L792.2 662.6 L792.6 647.2 L793.0 659.6 L793.4 645.2 L793.8 669.5 L794.1 636.4 L794.5 665.5 L794.9 645.6 L795.3 662.5 L795.7 651.7 L796.0 663.8 L796.4 652.6 L796.8 667.9 L797.2 646.9 L797.6 669.4 L797.9 651.7 L798.3 678.2 L798.7 652.2 L799.1 676.6 L799.5 665.4 L799.8 687.3 L800.2 666.5 L800.6 683.6 L801.0 668.6 L801.4 696.1 L801.7 669.1 L802.1 693.0 L802.5 683.6 L802.9 694.2 L803.3 687.2 L803.6 682.8 L804.0 658.6 L804.4 663.3 L804.8 642.9 L805.2 635.5 L805.5 618.5M811.2 464.7 L811.6 448.6 L812.0 464.1 L812.4 450.8 L812.8 458.9 L813.1 444.6 L813.5 458.7 L813.9 450.1 L814.3 464.1 L814.7 452.8 L815.0 467.0 L815.4 449.1 L815.8 462.8 L816.2 455.4 L816.6 465.9 L816.9 454.9 L817.3 467.9 L817.7 453.7 L818.1 467.1 L818.5 453.5 L818.8 470.6 L819.2 463.8 L819.6 472.7 L820.0 460.4 L820.4 472.6 L820.7 460.5 L821.1 484.8 L821.5 471.6 L821.9 489.1 L822.3 483.6 L822.6 493.6 L823.0 478.4 L823.4 499.8 L823.8 478.8 L824.2 492.6 L824.5 478.7 L824.9 501.9 L825.3 481.9 L825.7 502.9 L826.1 484.3 L826.4 511.9 L826.8 491.9 L827.2 509.4 L827.6 496.8 L828.0 517.1 L828.3 498.9 L828.7 519.9 L829.1 505.9 L829.5 521.0 L829.9 509.8 L830.2 523.8 L830.6 515.2 L831.0 525.9 L831.4 509.5 L831.8 532.1 L832.1 514.2 L832.5 533.7 L832.9 519.3 L833.3 526.3 L833.7 518.1 L834.0 533.6 L834.4 524.3 L834.8 540.4 L835.2 524.9 L835.6 547.3 L835.9 533.9 L836.3 548.5 L836.7 533.9 L837.1 552.4 L837.5 536.6 L837.8 552.9 L838.2 536.3 L838.6 550.6 L839.0 538.6 L839.4 555.3 L839.7 549.2 L840.1 564.3 L840.5 549.9 L840.9 563.9 L841.3 557.7 L841.6 564.3 L842.0 559.6 L842.4 568.9 L842.8 559.9 L843.2 574.6 L843.5 567.6 L843.9 581.3 L844.3 568.9 L844.7 589.9 L845.1 572.7 L845.4 585.9 L845.8 579.6 L846.2 591.6 L846.6 578.9 L847.0 595.6 L847.3 582.3 L847.7 597.4 L848.1 582.4 L848.5 594.7 L848.9 586.3 L849.2 602.4 L849.6 584.2 L850.0 601.9 L850.4 582.0 L850.8 597.5 L851.1 587.3 L851.5 603.2 L851.9 592.9 L852.3 611.4 L852.7 594.5 L853.0 607.6 L853.4 593.8 L853.8 605.7 L854.2 596.9 L854.6 605.5 L854.9 596.2 L855.3 614.4 L855.7 592.0 L856.1 620.1 L856.5 601.8 L856.8 623.0 L857.2 606.7 L857.6 615.3 L858.0 603.2 L858.4 625.0 L858.7 604.3 L859.1 618.7 L859.5 608.8 L859.9 627.2 L860.3 610.1 L860.6 632.7 L861.0 605.5 L861.4 623.9 L861.8 610.6 L862.2 634.9 L862.5 606.2 L862.9 636.0 L863.3 603.6 L863.7 639.1 L864.1 615.7 L864.4 642.8 L864.8 614.5 L865.2 641.0 L865.6 617.2 L866.0 645.6 L866.3 617.8 L866.7 643.0 L867.1 619.0 L867.5 645.6 L867.9 624.2 L868.2 657.2 L868.6 631.9 L869.0 649.4 L869.4 630.7 L869.8 654.4 L870.1 645.4 L870.5 656.1 L870.9 646.4 L871.3 663.7 L871.7 642.1 L872.0 662.0 L872.4 649.9 L872.8 672.4 L873.2 656.6 L873.6 668.8 L873.9 656.2 L874.3 675.8 L874.7 655.4 L875.1 667.7 L875.5 659.9 L875.8 669.9 L876.2 653.6 L876.6 670.0 L877.0 664.3 L877.4 672.9 L877.7 665.9 L878.1 682.9 L878.5 656.3 L878.9 683.5 L879.3 663.9 L879.6 677.7 L880.0 657.4 L880.4 684.8 L880.8 668.6 L881.2 699.2 L881.5 681.6 L881.9 697.0M888.0 465.9 L888.4 447.0 L888.8 469.2 L889.1 445.7 L889.5 475.5 L889.9 462.7 L890.3 493.5 L890.7 465.2 L891.0 493.3 L891.4 464.8 L891.8 505.4 L892.2 461.3 L892.6 494.6 L892.9 475.1 L893.3 508.9 L893.7 476.9 L894.1 501.9 L894.5 472.0 L894.8 518.8 L895.2 475.0 L895.6 509.9 L896.0 486.2 L896.4 509.3 L896.7 471.0 L897.1 506.7 L897.5 483.5 L897.9 513.7 L898.3 492.0 L898.6 521.0 L899.0 497.9 L899.4 530.5 L899.8 493.3 L900.2 521.8 L900.5 509.1 L900.9 518.3 L901.3 495.5 L901.7 528.6 L902.1 511.1 L902.4 522.7 L902.8 498.4 L903.2 528.2 L903.6 497.3 L904.0 533.5 L904.3 505.7 L904.7 535.3 L905.1 507.2 L905.5 533.2 L905.9 519.6 L906.2 536.7 L906.6 528.5 L907.0 548.9 L907.4 516.2 L907.8 542.5 L908.1 524.0 L908.5 550.0 L908.9 537.7 L909.3 547.3 L909.7 536.0 L910.0 549.7 L910.4 535.1 L910.8 557.5 L911.2 542.7 L911.6 567.4 L911.9 539.2 L912.3 568.4 L912.7 548.2 L913.1 570.8 L913.5 544.3 L913.8 575.3 L914.2 559.5 L914.6 586.5 L915.0 564.8 L915.4 582.2 L915.7 566.7 L916.1 590.6 L916.5 569.9 L916.9 592.3 L917.3 584.8 L917.6 600.0 L918.0 580.7 L918.4 605.6 L918.8 583.2 L919.2 609.5 L919.5 586.1 L919.9 621.4 L920.3 604.3 L920.7 632.2 L921.1 605.7 L921.4 638.4 L921.8 612.9 L922.2 632.3 L922.6 611.5 L923.0 643.9 L923.3 618.8 L923.7 639.0 L924.1 611.0 L924.5 654.6 L924.9 624.1 L925.2 651.6 L925.6 612.9 L926.0 655.0 L926.4 615.3 L926.8 657.2 L927.1 630.9 L927.5 659.2 L927.9 637.0 L928.3 653.8 L928.7 626.2 L929.0 667.7 L929.4 626.0 L929.8 665.0 L930.2 644.4 L930.6 675.6 L930.9 629.8 L931.3 679.3 L931.7 651.2 L932.1 684.6 L932.5 638.6 L932.8 696.2 L933.2 646.5 L933.6 694.6 L934.0 664.3 L934.4 678.6 L934.7 666.0 L935.1 687.9 L935.5 652.1 L935.9 673.4 L936.3 637.5 L936.6 685.9 L937.0 634.8 L937.4 696.6 L937.8 629.2 L938.2 683.9 L938.5 629.8 L938.9 671.3 L939.3 622.7 L939.7 672.6 L940.1 633.6 L940.4 674.1 L940.8 641.4 L941.2 670.6 L941.6 624.5 L942.0 666.0 L942.3 629.1 L942.7 676.9 L943.1 637.4 L943.5 671.6 L943.9 659.4 L944.2 677.9 L944.6 649.3 L945.0 697.8 L945.4 654.2 L945.8 690.9 L946.1 662.1 L946.5 691.2 L946.9 657.8 L947.3 699.7 L947.7 668.8M119.6 442.8 L119.6 699.9 L120.7 699.9 L120.7 442.8 L121.7 442.8 L121.7 699.9 L123.0 699.9 L123.0 442.8M149.5 442.8 L149.5 699.9 L150.7 699.9 L150.7 442.8 L152.0 442.8 L152.0 699.9 L153.1 699.9 L153.1 442.8 L154.5 442.8 L154.5 699.9 L156.0 699.9 L156.0 442.8 L157.0 442.8 L157.0 699.9M217.8 442.8 L217.8 699.9 L218.9 699.9 L218.9 442.8 L220.8 442.8 L220.8 699.9 L222.0 699.9 L222.0 442.8 L223.1 442.8 L223.1 699.9 L224.6 699.9 L224.6 442.8 L225.7 442.8 L225.7 699.9M304.8 442.8 L304.8 699.9 L306.1 699.9 L306.1 442.8 L308.1 442.8 L308.1 699.9 L309.1 699.9 L309.1 442.8 L310.4 442.8 L310.4 699.9M388.5 442.8 L388.5 699.9 L389.4 699.9 L389.4 442.8 L391.4 442.8 L391.4 699.9 L392.7 699.9 L392.7 442.8M408.4 442.8 L408.4 699.9 L409.8 699.9 L409.8 442.8 L411.8 442.8 L411.8 699.9 L413.7 699.9 L413.7 442.8 L414.8 442.8 L414.8 699.9 L416.1 699.9 L416.1 442.8 L417.3 442.8 L417.3 699.9 L419.2 699.9 L419.2 442.8 L420.5 442.8 L420.5 699.9 L421.5 699.9 L421.5 442.8 L422.6 442.8 L422.6 699.9 L423.8 699.9 L423.8 442.8 L425.8 442.8 L425.8 699.9 L426.8 699.9 L426.8 442.8 L428.4 442.8 L428.4 699.9 L429.7 699.9 L429.7 442.8 L431.2 442.8 L431.2 699.9 L432.8 699.9 L432.8 442.8 L433.9 442.8 L433.9 699.9M437.4 442.8 L437.4 699.9 L438.7 699.9 L438.7 442.8 L439.8 442.8 L439.8 699.9M449.0 442.8 L449.0 699.9 L450.1 699.9 L450.1 442.8 L451.5 442.8 L451.5 699.9 L452.9 699.9 L452.9 442.8 L454.4 442.8 L454.4 699.9 L455.8 699.9 L455.8 442.8M464.3 442.8 L464.3 699.9 L465.5 699.9 L465.5 442.8 L466.9 442.8 L466.9 699.9M506.8 442.8 L506.8 699.9 L507.8 699.9 L507.8 442.8 L509.3 442.8 L509.3 699.9 L510.5 699.9 L510.5 442.8 L511.5 442.8 L511.5 699.9 L512.7 699.9 L512.7 442.8 L514.1 442.8 L514.1 699.9 L515.5 699.9 L515.5 442.8M531.1 442.8 L531.1 699.9 L532.4 699.9 L532.4 442.8 L533.9 442.8 L533.9 699.9 L535.0 699.9 L535.0 442.8 L536.4 442.8 L536.4 699.9 L537.3 699.9 L537.3 442.8M583.4 442.8 L583.4 699.9 L584.9 699.9 L584.9 442.8 L586.2 442.8 L586.2 699.9 L587.6 699.9 L587.6 442.8 L589.0 442.8 L589.0 699.9M658.3 442.8 L658.3 699.9 L659.5 699.9 L659.5 442.8 L661.0 442.8 L661.0 699.9M662.9 442.8 L662.9 699.9 L664.2 699.9 L664.2 442.8 L665.6 442.8 L665.6 699.9M806.0 442.8 L806.0 699.9 L807.5 699.9 L807.5 442.8 L809.6 442.8 L809.6 699.9M882.4 442.8 L882.4 699.9 L883.5 699.9 L883.5 442.8 L885.0 442.8 L885.0 699.9 L886.1 699.9 L886.1 442.8 L887.2 442.8 L887.2 699.9M947.9 442.8 L947.9 699.9 L949.5 699.9 L949.5 442.8 L951.0 442.8 L951.0 699.9M126.7 442.8 L126.8 699.9M134.1 442.8 L134.3 699.9M173.4 442.8 L173.5 699.9M174.3 442.8 L174.4 699.9M177.3 442.8 L177.4 699.9M181.6 442.8 L181.7 699.9M187.2 442.8 L187.3 699.9M187.9 442.8 L188.1 699.9M190.7 442.8 L190.9 699.9M230.9 442.8 L231.0 699.9M238.1 442.8 L238.3 699.9M241.5 442.8 L241.7 699.9M242.8 442.8 L243.0 699.9M252.1 442.8 L252.3 699.9M253.3 442.8 L253.4 699.9M254.8 442.8 L254.9 699.9M262.8 442.8 L263.0 699.9M264.7 442.8 L264.8 699.9M272.7 442.8 L272.8 699.9M288.6 442.8 L288.7 699.9M345.9 442.8 L346.0 699.9M354.8 442.8 L355.0 699.9M355.6 442.8 L355.7 699.9M359.9 442.8 L360.0 699.9M361.2 442.8 L361.3 699.9M362.3 442.8 L362.5 699.9M365.5 442.8 L365.6 699.9M366.4 442.8 L366.6 699.9M367.5 442.8 L367.7 699.9M403.8 442.8 L403.9 699.9M440.4 442.8 L440.5 699.9M496.4 442.8 L496.5 699.9M502.7 442.8 L502.9 699.9M542.3 442.8 L542.5 699.9M551.7 442.8 L551.8 699.9M573.9 442.8 L574.0 699.9M594.6 442.8 L594.7 699.9M746.8 442.8 L746.9 699.9M747.7 442.8 L747.9 699.9M804.0 442.8 L804.1 699.9M934.9 442.8 L935.0 699.9M945.9 442.8 L946.0 699.9"/>
<text transform="translate(496.9,17) scale(1,1.03)" text-anchor="middle" class="h">NSY20240513.txt</text>
<text transform="translate(496.7,772) scale(1,1.04)" text-anchor="middle" class="l">Time (hours after midnight UTC)</text>
<text transform="translate(18.3,182.7) rotate(-90) scale(1,1.04)" text-anchor="middle" class="l">Amplitude (dB)</text>
<text transform="translate(18.3,579.5) rotate(-90) scale(1,1.04)" text-anchor="middle" class="l">Phase (degrees)</text>
</svg></body></html>
